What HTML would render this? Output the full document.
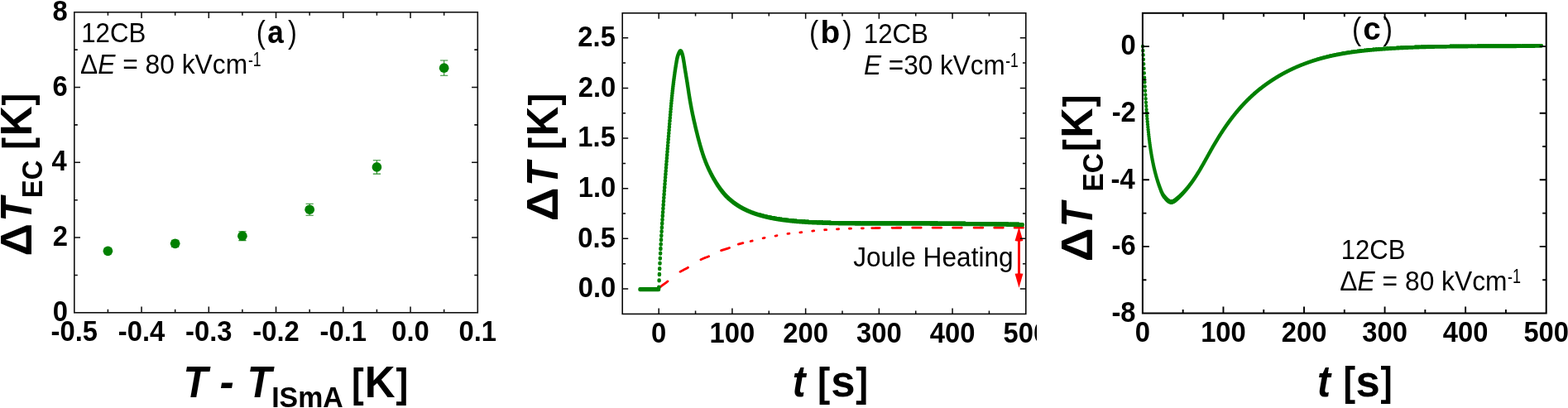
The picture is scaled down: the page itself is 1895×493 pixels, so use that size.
<!DOCTYPE html>
<html lang="en"><head><meta charset="utf-8"><title>Figure</title>
<style>html,body{margin:0;padding:0;background:#fff;overflow:hidden}svg{display:block}text{white-space:pre}</style>
</head><body>
<svg width="1895" height="493" viewBox="0 0 1895 493" font-family="'Liberation Sans', Arial, sans-serif" fill="#000">
<rect width="1895" height="493" fill="#fff"/>
<path d="M130.42 300.20V306.55M125.82 300.20h9.2M125.82 306.55h9.2" stroke="#2a8c2a" stroke-width="1.1" fill="none"/>
<circle cx="130.42" cy="303.37" r="5.85" fill="#008000"/>
<path d="M211.68 290.21V298.38M207.08 290.21h9.2M207.08 298.38h9.2" stroke="#2a8c2a" stroke-width="1.1" fill="none"/>
<circle cx="211.68" cy="294.30" r="5.85" fill="#008000"/>
<path d="M292.92 279.78V290.67M288.32 279.78h9.2M288.32 290.67h9.2" stroke="#2a8c2a" stroke-width="1.1" fill="none"/>
<circle cx="292.92" cy="285.22" r="5.85" fill="#008000"/>
<path d="M374.18 246.19V260.26M369.57 246.19h9.2M369.57 260.26h9.2" stroke="#2a8c2a" stroke-width="1.1" fill="none"/>
<circle cx="374.18" cy="253.23" r="5.85" fill="#008000"/>
<path d="M455.42 193.78V210.12M450.82 193.78h9.2M450.82 210.12h9.2" stroke="#2a8c2a" stroke-width="1.1" fill="none"/>
<circle cx="455.42" cy="201.95" r="5.85" fill="#008000"/>
<path d="M536.67 73.06V91.22M532.07 73.06h9.2M532.07 91.22h9.2" stroke="#2a8c2a" stroke-width="1.1" fill="none"/>
<circle cx="536.67" cy="82.14" r="5.85" fill="#008000"/>
<rect x="89.8" y="14.75" width="487.50" height="363.05" fill="none" stroke="#111" stroke-width="1.6"/>
<path d="M171.05 377.8v-7.2M171.05 14.75v7.2M252.30 377.8v-7.2M252.30 14.75v7.2M333.55 377.8v-7.2M333.55 14.75v7.2M414.80 377.8v-7.2M414.80 14.75v7.2M496.05 377.8v-7.2M496.05 14.75v7.2" stroke="#111" stroke-width="1.55" fill="none"/>
<path d="M130.42 377.8v-4M130.42 14.75v4M211.68 377.8v-4M211.68 14.75v4M292.92 377.8v-4M292.92 14.75v4M374.18 377.8v-4M374.18 14.75v4M455.42 377.8v-4M455.42 14.75v4M536.67 377.8v-4M536.67 14.75v4" stroke="#111" stroke-width="1.55" fill="none"/>
<path d="M89.8 287.04h7.2M577.3 287.04h-7.2M89.8 196.28h7.2M577.3 196.28h-7.2M89.8 105.51h7.2M577.3 105.51h-7.2" stroke="#111" stroke-width="1.55" fill="none"/>
<path d="M89.8 332.42h4M577.3 332.42h-4M89.8 241.66h4M577.3 241.66h-4M89.8 150.89h4M577.3 150.89h-4M89.8 60.13h4M577.3 60.13h-4" stroke="#111" stroke-width="1.55" fill="none"/>
<text transform="translate(63.72,388.00) scale(0.9500,1)" font-size="34.5" font-weight="bold" font-style="normal">0</text>
<text transform="translate(63.64,297.24) scale(0.9500,1)" font-size="34.5" font-weight="bold" font-style="normal">2</text>
<text transform="translate(62.57,206.47) scale(0.9500,1)" font-size="34.5" font-weight="bold" font-style="normal">4</text>
<text transform="translate(63.56,115.71) scale(0.9500,1)" font-size="34.5" font-weight="bold" font-style="normal">6</text>
<text transform="translate(63.39,24.95) scale(0.9500,1)" font-size="34.5" font-weight="bold" font-style="normal">8</text>
<text transform="translate(89.80,412.40) scale(0.95,1)" font-size="34.5" font-weight="bold" text-anchor="middle">-0.5</text>
<text transform="translate(171.05,412.40) scale(0.95,1)" font-size="34.5" font-weight="bold" text-anchor="middle">-0.4</text>
<text transform="translate(252.30,412.40) scale(0.95,1)" font-size="34.5" font-weight="bold" text-anchor="middle">-0.3</text>
<text transform="translate(333.55,412.40) scale(0.95,1)" font-size="34.5" font-weight="bold" text-anchor="middle">-0.2</text>
<text transform="translate(414.80,412.40) scale(0.95,1)" font-size="34.5" font-weight="bold" text-anchor="middle">-0.1</text>
<text transform="translate(496.05,412.40) scale(0.95,1)" font-size="34.5" font-weight="bold" text-anchor="middle">0.0</text>
<text transform="translate(577.30,412.40) scale(0.95,1)" font-size="34.5" font-weight="bold" text-anchor="middle">0.1</text>
<text transform="translate(98.26,51.10) scale(0.9455,1)" font-size="33.0" font-weight="normal" font-style="normal">12CB</text>
<text transform="translate(0,89.20)" font-size="33.0"><tspan x="96.95" y="0" font-weight="normal" font-style="normal" textLength="21.22" lengthAdjust="spacingAndGlyphs">Δ</tspan><tspan x="118.17" y="0" font-weight="normal" font-style="italic" textLength="21.19" lengthAdjust="spacingAndGlyphs">E</tspan><tspan x="139.36" y="0" font-weight="normal" font-style="normal" textLength="159.80" lengthAdjust="spacingAndGlyphs"> = 80 kVcm</tspan><tspan x="299.91" y="-9.4" font-size="23.0" textLength="15.66" lengthAdjust="spacingAndGlyphs">-1</tspan></text>
<text transform="translate(0,52.00)"><tspan x="309.82" y="0.00" font-size="39.0" font-weight="normal" font-style="normal" textLength="11.06" lengthAdjust="spacingAndGlyphs">(</tspan><tspan x="323.25" y="0.00" font-size="39.0" font-weight="bold" font-style="normal" textLength="19.53" lengthAdjust="spacingAndGlyphs">a</tspan><tspan x="348.06" y="0.00" font-size="39.0" font-weight="normal" font-style="normal" textLength="10.81" lengthAdjust="spacingAndGlyphs">)</tspan></text>
<text transform="translate(0,480.10)"><tspan x="221.50" y="0.00" font-size="53.0" font-weight="bold" font-style="italic" textLength="29.64" lengthAdjust="spacingAndGlyphs">T</tspan><tspan> </tspan><tspan x="265.57" y="0.00" font-size="53.0" font-weight="bold" font-style="italic" textLength="17.28" lengthAdjust="spacingAndGlyphs">-</tspan><tspan> </tspan><tspan x="298.71" y="0.00" font-size="53.0" font-weight="bold" font-style="italic" textLength="29.54" lengthAdjust="spacingAndGlyphs">T</tspan><tspan x="328.21" y="11.40" font-size="34.5" font-weight="bold" font-style="normal" textLength="86.57" lengthAdjust="spacingAndGlyphs">ISmA</tspan><tspan> </tspan><tspan x="425.07" y="-0.40" font-size="50.5" font-weight="bold" font-style="normal" textLength="14.70" lengthAdjust="spacingAndGlyphs">[</tspan><tspan x="440.86" y="0.00" font-size="53.0" font-weight="bold" font-style="normal" textLength="36.84" lengthAdjust="spacingAndGlyphs">K</tspan><tspan x="478.54" y="-0.40" font-size="50.5" font-weight="bold" font-style="normal" textLength="14.83" lengthAdjust="spacingAndGlyphs">]</tspan></text>
<text transform="translate(38.00,0) rotate(-90)"><tspan x="-309.50" y="0.00" font-size="53.0" font-weight="bold" font-style="normal" textLength="39.46" lengthAdjust="spacingAndGlyphs">Δ</tspan><tspan x="-267.85" y="0.00" font-size="53.0" font-weight="bold" font-style="italic" textLength="29.24" lengthAdjust="spacingAndGlyphs">T</tspan><tspan x="-239.22" y="13.00" font-size="34.5" font-weight="bold" font-style="normal" textLength="45.59" lengthAdjust="spacingAndGlyphs">EC</tspan><tspan> </tspan><tspan x="-180.73" y="-0.40" font-size="50.5" font-weight="bold" font-style="normal" textLength="14.70" lengthAdjust="spacingAndGlyphs">[</tspan><tspan x="-164.27" y="0.00" font-size="53.0" font-weight="bold" font-style="normal" textLength="36.05" lengthAdjust="spacingAndGlyphs">K</tspan><tspan x="-127.55" y="-0.40" font-size="50.5" font-weight="bold" font-style="normal" textLength="14.70" lengthAdjust="spacingAndGlyphs">]</tspan></text>
<clipPath id="cb"><rect x="600" y="0" width="653" height="493"/></clipPath>
<g clip-path="url(#cb)">
<path d="M796.42 347.86 L798.18 346.55 L799.94 345.24 L801.70 343.92 L803.46 342.61 L805.22 341.29 L806.98 339.95M822.02 328.40 L823.60 327.49 L825.17 326.64 L826.75 325.83 L828.33 325.02 L829.90 324.20 L831.48 323.34M846.92 313.66 L848.53 312.95 L850.14 312.29 L851.75 311.67 L853.36 311.06 L854.97 310.43 L856.58 309.78M871.62 302.68 L873.26 302.11 L874.91 301.58 L876.55 301.07 L878.19 300.57 L879.84 300.05 L881.48 299.50M892.32 295.14 L893.25 294.85 L894.17 294.58 L895.10 294.32 L896.03 294.06 L896.95 293.82 L897.88 293.58M907.12 291.50 L907.46 291.42 L907.81 291.34 L908.15 291.26 L908.49 291.18 L908.84 291.10 L909.18 291.02M922.12 287.79 L922.45 287.72 L922.77 287.65 L923.10 287.58 L923.43 287.51 L923.75 287.45 L924.08 287.38M937.02 285.07 L937.35 285.01 L937.67 284.96 L938.00 284.90 L938.33 284.84 L938.65 284.78 L938.98 284.72M951.92 282.44 L952.25 282.40 L952.57 282.36 L952.90 282.31 L953.23 282.27 L953.55 282.23 L953.88 282.19M966.82 280.91 L967.15 280.87 L967.47 280.84 L967.80 280.80 L968.13 280.76 L968.45 280.73 L968.78 280.69M981.72 279.10 L982.05 279.07 L982.37 279.03 L982.70 279.00 L983.03 278.97 L983.35 278.93 L983.68 278.90M996.62 277.77 L996.96 277.75 L997.31 277.72 L997.65 277.70 L997.99 277.67 L998.34 277.65 L998.68 277.62M1011.52 276.85 L1011.86 276.83 L1012.21 276.81 L1012.55 276.80 L1012.89 276.78 L1013.24 276.76 L1013.58 276.75M1026.42 276.23 L1026.76 276.22 L1027.11 276.21 L1027.45 276.20 L1027.79 276.19 L1028.14 276.18 L1028.48 276.17M1041.32 275.83 L1041.66 275.82 L1042.01 275.82 L1042.35 275.81 L1042.69 275.80 L1043.04 275.79 L1043.38 275.78M1053.72 275.59 L1055.30 275.56 L1056.87 275.54 L1058.45 275.52 L1060.03 275.50 L1061.60 275.48 L1063.18 275.46M1078.12 275.31 L1079.90 275.29 L1081.67 275.28 L1083.45 275.27 L1085.23 275.25 L1087.00 275.24 L1088.78 275.23M1102.72 275.20 L1104.46 275.20 L1106.21 275.20 L1107.95 275.20 L1109.69 275.20 L1111.44 275.20 L1113.18 275.20M1127.12 275.20 L1128.88 275.20 L1130.64 275.20 L1132.40 275.20 L1134.16 275.20 L1135.92 275.20 L1137.68 275.20M1151.62 275.20 L1153.38 275.20 L1155.14 275.20 L1156.90 275.20 L1158.66 275.20 L1160.42 275.20 L1162.18 275.20M1177.12 275.20 L1178.90 275.20 L1180.67 275.20 L1182.45 275.20 L1184.23 275.20 L1186.00 275.20 L1187.78 275.20M1201.72 275.20 L1203.48 275.20 L1205.24 275.20 L1207.00 275.20 L1208.76 275.20 L1210.52 275.20 L1212.28 275.20M1226.12 275.20 L1227.88 275.20 L1229.64 275.20 L1231.40 275.20 L1233.16 275.20 L1234.92 275.20 L1236.68 275.20" fill="none" stroke="#ff0000" stroke-width="2.8" stroke-linecap="round"/>
<path d="M773.50 349.20v0.8M773.80 349.20v0.8M774.10 349.20v0.8M774.40 349.20v0.8M774.70 349.20v0.8M775.00 349.20v0.8M775.30 349.20v0.8M775.60 349.20v0.8M775.90 349.20v0.8M776.20 349.20v0.8M776.50 349.20v0.8M776.80 349.20v0.8M777.10 349.20v0.8M777.40 349.20v0.8M777.70 349.20v0.8M778.00 349.20v0.8M778.30 349.20v0.8M778.60 349.20v0.8M778.90 349.20v0.8M779.20 349.20v0.8M779.50 349.20v0.8M779.80 349.20v0.8M780.10 349.20v0.8M780.40 349.20v0.8M780.70 349.20v0.8M781.00 349.20v0.8M781.30 349.20v0.8M781.60 349.20v0.8M781.90 349.20v0.8M782.20 349.20v0.8M782.50 349.20v0.8M782.80 349.20v0.8M783.10 349.20v0.8M783.40 349.20v0.8M783.70 349.20v0.8M784.00 349.20v0.8M784.30 349.20v0.8M784.60 349.20v0.8M784.90 349.20v0.8M785.20 349.20v0.8M785.50 349.20v0.8M785.80 349.20v0.8M786.10 349.20v0.8M786.40 349.20v0.8M786.70 349.20v0.8M787.00 349.20v0.8M787.30 349.20v0.8M787.60 349.20v0.8M787.90 349.20v0.8M788.20 349.20v0.8M788.50 349.20v0.8M788.80 349.20v0.8M789.10 349.20v0.8M789.40 349.20v0.8M789.70 349.20v0.8M790.00 349.20v0.8M790.30 349.20v0.8M790.60 349.20v0.8M790.90 349.20v0.8M791.20 349.20v0.8M791.50 349.20v0.8M791.80 349.20v0.8M792.10 349.20v0.8M792.40 349.20v0.8M792.70 349.20v0.8M793.00 349.20v0.8M793.30 349.20v0.8M793.60 349.20v0.8M793.90 349.20v0.8M794.20 349.20v0.8M794.50 349.20v0.8M794.80 349.20v0.8M795.10 349.20v0.8M795.40 349.20v0.8M795.70 349.20v0.8M796.00 349.20v0.8M796.30 346.85v0.8M796.60 338.50v0.8M796.90 331.12v0.8M797.20 324.24v0.8M797.50 317.77v0.8M797.80 311.63v0.8M798.10 305.75v0.8M798.40 300.10v0.8M798.70 294.64v0.8M799.00 289.37v0.8M799.30 284.25v0.8M799.60 279.26v0.8M799.90 274.39v0.8M800.20 269.62v0.8M800.50 264.95v0.8M800.80 260.37v0.8M801.10 255.88v0.8M801.40 251.45v0.8M801.70 247.08v0.8M802.00 242.79v0.8M802.30 238.55v0.8M802.60 234.35v0.8M802.90 230.21v0.8M803.20 226.11v0.8M803.50 222.05v0.8M803.80 218.03v0.8M804.10 214.05v0.8M804.40 210.08v0.8M804.70 206.15v0.8M805.00 202.25v0.8M805.30 198.37v0.8M805.60 194.52v0.8M805.90 190.68v0.8M806.20 186.86v0.8M806.50 183.06v0.8M806.80 179.27v0.8M807.10 175.50v0.8M807.40 171.74v0.8M807.70 167.99v0.8M808.00 164.24v0.8M808.30 160.49v0.8M808.60 156.75v0.8M808.90 153.03v0.8M809.20 149.29v0.8M809.50 145.58v0.8M809.80 141.89v0.8M810.10 138.26v0.8M810.40 134.70v0.8M810.70 131.21v0.8M811.00 127.80v0.8M811.30 124.49v0.8M811.60 121.27v0.8M811.90 118.15v0.8M812.20 115.13v0.8M812.50 112.21v0.8M812.80 109.37v0.8M813.10 106.62v0.8M813.40 103.97v0.8M813.70 101.41v0.8M814.00 98.92v0.8M814.30 96.51v0.8M814.60 94.17v0.8M814.90 91.91v0.8M815.20 89.70v0.8M815.50 87.57v0.8M815.80 85.49v0.8M816.10 83.47v0.8M816.40 81.51v0.8M816.70 79.58v0.8M817.00 77.72v0.8M817.30 75.89v0.8M817.60 74.12v0.8M817.90 72.40v0.8M818.20 70.85v0.8M818.50 69.51v0.8M818.80 68.37v0.8M819.10 67.37v0.8M819.40 66.50v0.8M819.70 65.72v0.8M820.00 65.01v0.8M820.30 64.36v0.8M820.60 63.77v0.8M820.90 63.23v0.8M821.20 62.73v0.8M821.50 62.27v0.8M821.80 61.85v0.8M822.10 61.41v0.8M822.40 61.34v0.8M822.70 61.51v0.8M823.00 61.78v0.8M823.30 62.14v0.8M823.60 62.60v0.8M823.90 63.21v0.8M824.20 63.93v0.8M824.50 64.79v0.8M824.80 65.81v0.8M825.10 66.96v0.8M825.40 68.29v0.8M825.70 69.77v0.8M826.00 71.38v0.8M826.30 73.16v0.8M826.60 75.02v0.8M826.90 76.94v0.8M827.20 78.91v0.8M827.50 80.85v0.8M827.80 82.76v0.8M828.10 84.65v0.8M828.40 86.49v0.8M828.70 88.30v0.8M829.00 90.10v0.8M829.30 91.89v0.8M829.60 93.68v0.8M829.90 95.50v0.8M830.20 97.34v0.8M830.50 99.21v0.8M830.80 101.12v0.8M831.10 103.08v0.8M831.40 105.05v0.8M831.70 107.03v0.8M832.00 109.02v0.8M832.30 110.98v0.8M832.60 112.94v0.8M832.90 114.86v0.8M833.20 116.74v0.8M833.50 118.57v0.8M833.80 120.37v0.8M834.10 122.13v0.8M834.40 123.84v0.8M834.70 125.53v0.8M835.00 127.18v0.8M835.30 128.80v0.8M835.60 130.38v0.8M835.90 131.94v0.8M836.20 133.47v0.8M836.50 134.97v0.8M836.80 136.45v0.8M837.10 137.90v0.8M837.40 139.32v0.8M837.70 140.73v0.8M838.00 142.11v0.8M838.30 143.48v0.8M838.60 144.83v0.8M838.90 146.16v0.8M839.20 147.48v0.8M839.50 148.78v0.8M839.80 150.07v0.8M840.10 151.35v0.8M840.40 152.63v0.8M840.70 153.89v0.8M841.00 155.15v0.8M841.30 156.40v0.8M841.60 157.63v0.8M841.90 158.86v0.8M842.20 160.07v0.8M842.50 161.28v0.8M842.80 162.48v0.8M843.10 163.66v0.8M843.40 164.84v0.8M843.70 166.00v0.8M844.00 167.16v0.8M844.30 168.30v0.8M844.60 169.44v0.8M844.90 170.56v0.8M845.20 171.67v0.8M845.50 172.76v0.8M845.80 173.85v0.8M846.10 174.93v0.8M846.40 175.99v0.8M846.70 177.04v0.8M847.00 178.07v0.8M847.30 179.09v0.8M847.60 180.10v0.8M847.90 181.10v0.8M848.20 182.09v0.8M848.50 183.06v0.8M848.80 184.01v0.8M849.10 184.95v0.8M849.40 185.88v0.8M849.70 186.80v0.8M850.00 187.70v0.8M850.30 188.58v0.8M850.60 189.45v0.8M850.90 190.30v0.8M851.20 191.14v0.8M851.50 191.96v0.8M851.80 192.77v0.8M852.10 193.57v0.8M852.40 194.35v0.8M852.70 195.12v0.8M853.00 195.88v0.8M853.30 196.63v0.8M853.60 197.37v0.8M853.90 198.09v0.8M854.20 198.80v0.8M854.50 199.50v0.8M854.80 200.19v0.8M855.10 200.88v0.8M855.40 201.55v0.8M855.70 202.21v0.8M856.00 202.87v0.8M856.30 203.52v0.8M856.60 204.16v0.8M856.90 204.79v0.8M857.20 205.42v0.8M857.50 206.04v0.8M857.80 206.66v0.8M858.10 207.27v0.8M858.40 207.87v0.8M858.70 208.47v0.8M859.00 209.06v0.8M859.30 209.65v0.8M859.60 210.23v0.8M859.90 210.80v0.8M860.20 211.37v0.8M860.50 211.93v0.8M860.80 212.49v0.8M861.10 213.04v0.8M861.40 213.59v0.8M861.70 214.14v0.8M862.00 214.68v0.8M862.30 215.21v0.8M862.60 215.74v0.8M862.90 216.26v0.8M863.20 216.78v0.8M863.50 217.29v0.8M863.80 217.80v0.8M864.10 218.30v0.8M864.40 218.80v0.8M864.70 219.29v0.8M865.00 219.78v0.8M865.30 220.26v0.8M865.60 220.74v0.8M865.90 221.22v0.8M866.20 221.69v0.8M866.50 222.16v0.8M866.80 222.62v0.8M867.10 223.08v0.8M867.40 223.53v0.8M867.70 223.98v0.8M868.00 224.42v0.8M868.30 224.86v0.8M868.60 225.29v0.8M868.90 225.73v0.8M869.20 226.16v0.8M869.50 226.58v0.8M869.80 227.00v0.8M870.10 227.42v0.8M870.40 227.83v0.8M870.70 228.24v0.8M871.00 228.64v0.8M871.30 229.04v0.8M871.60 229.43v0.8M871.90 229.83v0.8M872.20 230.22v0.8M872.50 230.61v0.8M872.80 230.99v0.8M873.10 231.37v0.8M873.40 231.74v0.8M873.70 232.11v0.8M874.00 232.48v0.8M874.30 232.85v0.8M874.60 233.21v0.8M874.90 233.57v0.8M875.20 233.93v0.8M875.50 234.27v0.8M875.80 234.61v0.8M876.10 234.94v0.8M876.40 235.27v0.8M876.70 235.59v0.8M877.00 235.91v0.8M877.30 236.22v0.8M877.60 236.52v0.8M877.90 236.83v0.8M878.20 237.13v0.8M878.50 237.42v0.8M878.80 237.72v0.8M879.10 238.01v0.8M879.40 238.29v0.8M879.70 238.58v0.8M880.00 238.86v0.8M880.30 239.14v0.8M880.60 239.41v0.8M880.90 239.68v0.8M881.20 239.95v0.8M881.50 240.22v0.8M881.80 240.48v0.8M882.10 240.75v0.8M882.40 241.01v0.8M882.70 241.26v0.8M883.00 241.52v0.8M883.30 241.77v0.8M883.60 242.02v0.8M883.90 242.26v0.8M884.20 242.51v0.8M884.50 242.75v0.8M884.80 242.99v0.8M885.10 243.23v0.8M885.40 243.46v0.8M885.70 243.69v0.8M886.00 243.92v0.8M886.30 244.15v0.8M886.60 244.38v0.8M886.90 244.60v0.8M887.20 244.82v0.8M887.50 245.04v0.8M887.80 245.26v0.8M888.10 245.48v0.8M888.40 245.69v0.8M888.70 245.90v0.8M889.00 246.11v0.8M889.30 246.32v0.8M889.60 246.52v0.8M889.90 246.72v0.8M890.20 246.92v0.8M890.50 247.12v0.8M890.80 247.32v0.8M891.10 247.51v0.8M891.40 247.71v0.8M891.70 247.90v0.8M892.00 248.09v0.8M892.30 248.28v0.8M892.60 248.46v0.8M892.90 248.65v0.8M893.20 248.83v0.8M893.50 249.02v0.8M893.80 249.20v0.8M894.10 249.38v0.8M894.40 249.55v0.8M894.70 249.73v0.8M895.00 249.90v0.8M895.30 250.07v0.8M895.60 250.24v0.8M895.90 250.41v0.8M896.20 250.58v0.8M896.50 250.74v0.8M896.80 250.91v0.8M897.10 251.07v0.8M897.40 251.23v0.8M897.70 251.39v0.8M898.00 251.55v0.8M898.30 251.70v0.8M898.60 251.86v0.8M898.90 252.01v0.8M899.20 252.17v0.8M899.50 252.32v0.8M899.80 252.46v0.8M900.10 252.61v0.8M900.40 252.75v0.8M900.70 252.90v0.8M901.00 253.04v0.8M901.30 253.18v0.8M901.60 253.32v0.8M901.90 253.46v0.8M902.20 253.60v0.8M902.50 253.74v0.8M902.80 253.88v0.8M903.10 254.02v0.8M903.40 254.15v0.8M903.70 254.29v0.8M904.00 254.42v0.8M904.30 254.55v0.8M904.60 254.69v0.8M904.90 254.82v0.8M905.20 254.94v0.8M905.50 255.07v0.8M905.80 255.20v0.8M906.10 255.32v0.8M906.40 255.44v0.8M906.70 255.57v0.8M907.00 255.69v0.8M907.30 255.81v0.8M907.60 255.93v0.8M907.90 256.04v0.8M908.20 256.16v0.8M908.50 256.28v0.8M908.80 256.39v0.8M909.10 256.51v0.8M909.40 256.62v0.8M909.70 256.73v0.8M910.00 256.84v0.8M910.30 256.95v0.8M910.60 257.06v0.8M910.90 257.17v0.8M911.20 257.28v0.8M911.50 257.38v0.8M911.80 257.49v0.8M912.10 257.59v0.8M912.40 257.70v0.8M912.70 257.80v0.8M913.00 257.90v0.8M913.30 258.01v0.8M913.60 258.11v0.8M913.90 258.21v0.8M914.20 258.31v0.8M914.50 258.40v0.8M914.80 258.50v0.8M915.10 258.60v0.8M915.40 258.69v0.8M915.70 258.79v0.8M916.00 258.88v0.8M916.30 258.98v0.8M916.60 259.07v0.8M916.90 259.16v0.8M917.20 259.25v0.8M917.50 259.34v0.8M917.80 259.43v0.8M918.10 259.52v0.8M918.40 259.61v0.8M918.70 259.69v0.8M919.00 259.78v0.8M919.30 259.87v0.8M919.60 259.95v0.8M919.90 260.04v0.8M920.20 260.12v0.8M920.50 260.20v0.8M920.80 260.28v0.8M921.10 260.37v0.8M921.40 260.45v0.8M921.70 260.53v0.8M922.00 260.61v0.8M922.30 260.69v0.8M922.60 260.76v0.8M922.90 260.84v0.8M923.20 260.92v0.8M923.50 260.99v0.8M923.80 261.07v0.8M924.10 261.14v0.8M924.40 261.22v0.8M924.70 261.29v0.8M925.00 261.37v0.8M925.30 261.44v0.8M925.60 261.51v0.8M925.90 261.58v0.8M926.20 261.65v0.8M926.50 261.72v0.8M926.80 261.79v0.8M927.10 261.86v0.8M927.40 261.93v0.8M927.70 262.00v0.8M928.00 262.07v0.8M928.30 262.13v0.8M928.60 262.20v0.8M928.90 262.26v0.8M929.20 262.33v0.8M929.50 262.39v0.8M929.80 262.46v0.8M930.10 262.52v0.8M930.40 262.58v0.8M930.70 262.65v0.8M931.00 262.71v0.8M931.30 262.77v0.8M931.60 262.83v0.8M931.90 262.89v0.8M932.20 262.95v0.8M932.50 263.01v0.8M932.80 263.07v0.8M933.10 263.13v0.8M933.40 263.19v0.8M933.70 263.24v0.8M934.00 263.30v0.8M934.30 263.36v0.8M934.60 263.41v0.8M934.90 263.47v0.8M935.20 263.52v0.8M935.50 263.58v0.8M935.80 263.63v0.8M936.10 263.69v0.8M936.40 263.74v0.8M936.70 263.79v0.8M937.00 263.85v0.8M937.30 263.90v0.8M937.60 263.95v0.8M937.90 264.00v0.8M938.20 264.06v0.8M938.50 264.11v0.8M938.80 264.16v0.8M939.10 264.21v0.8M939.40 264.26v0.8M939.70 264.31v0.8M940.00 264.36v0.8M940.30 264.40v0.8M940.60 264.45v0.8M940.90 264.50v0.8M941.20 264.55v0.8M941.50 264.59v0.8M941.80 264.64v0.8M942.10 264.69v0.8M942.40 264.73v0.8M942.70 264.78v0.8M943.00 264.82v0.8M943.30 264.86v0.8M943.60 264.91v0.8M943.90 264.95v0.8M944.20 264.99v0.8M944.50 265.04v0.8M944.80 265.08v0.8M945.10 265.12v0.8M945.40 265.16v0.8M945.70 265.20v0.8M946.00 265.25v0.8M946.30 265.29v0.8M946.60 265.33v0.8M946.90 265.37v0.8M947.20 265.41v0.8M947.50 265.45v0.8M947.80 265.48v0.8M948.10 265.52v0.8M948.40 265.56v0.8M948.70 265.60v0.8M949.00 265.64v0.8M949.30 265.67v0.8M949.60 265.71v0.8M949.90 265.75v0.8M950.20 265.78v0.8M950.50 265.82v0.8M950.80 265.86v0.8M951.10 265.89v0.8M951.40 265.93v0.8M951.70 265.96v0.8M952.00 266.00v0.8M952.30 266.03v0.8M952.60 266.06v0.8M952.90 266.10v0.8M953.20 266.13v0.8M953.50 266.16v0.8M953.80 266.20v0.8M954.10 266.23v0.8M954.40 266.26v0.8M954.70 266.30v0.8M955.00 266.33v0.8M955.30 266.36v0.8M955.60 266.39v0.8M955.90 266.42v0.8M956.20 266.46v0.8M956.50 266.49v0.8M956.80 266.52v0.8M957.10 266.55v0.8M957.40 266.58v0.8M957.70 266.61v0.8M958.00 266.64v0.8M958.30 266.67v0.8M958.60 266.70v0.8M958.90 266.73v0.8M959.20 266.75v0.8M959.50 266.78v0.8M959.80 266.81v0.8M960.10 266.84v0.8M960.40 266.87v0.8M960.70 266.89v0.8M961.00 266.92v0.8M961.30 266.95v0.8M961.60 266.97v0.8M961.90 267.00v0.8M962.20 267.03v0.8M962.50 267.05v0.8M962.80 267.08v0.8M963.10 267.10v0.8M963.40 267.13v0.8M963.70 267.15v0.8M964.00 267.18v0.8M964.30 267.20v0.8M964.60 267.23v0.8M964.90 267.25v0.8M965.20 267.28v0.8M965.50 267.30v0.8M965.80 267.32v0.8M966.10 267.35v0.8M966.40 267.37v0.8M966.70 267.39v0.8M967.00 267.42v0.8M967.30 267.44v0.8M967.60 267.46v0.8M967.90 267.48v0.8M968.20 267.51v0.8M968.50 267.53v0.8M968.80 267.55v0.8M969.10 267.57v0.8M969.40 267.59v0.8M969.70 267.61v0.8M970.00 267.63v0.8M970.30 267.65v0.8M970.60 267.68v0.8M970.90 267.70v0.8M971.20 267.72v0.8M971.50 267.74v0.8M971.80 267.76v0.8M972.10 267.78v0.8M972.40 267.80v0.8M972.70 267.82v0.8M973.00 267.84v0.8M973.30 267.86v0.8M973.60 267.87v0.8M973.90 267.89v0.8M974.20 267.91v0.8M974.50 267.93v0.8M974.80 267.95v0.8M975.10 267.97v0.8M975.40 267.99v0.8M975.70 268.01v0.8M976.00 268.02v0.8M976.30 268.04v0.8M976.60 268.06v0.8M976.90 268.08v0.8M977.20 268.09v0.8M977.50 268.11v0.8M977.80 268.13v0.8M978.10 268.15v0.8M978.40 268.16v0.8M978.70 268.18v0.8M979.00 268.19v0.8M979.30 268.21v0.8M979.60 268.23v0.8M979.90 268.24v0.8M980.20 268.26v0.8M980.50 268.27v0.8M980.80 268.29v0.8M981.10 268.30v0.8M981.40 268.32v0.8M981.70 268.33v0.8M982.00 268.35v0.8M982.30 268.36v0.8M982.60 268.38v0.8M982.90 268.39v0.8M983.20 268.40v0.8M983.50 268.42v0.8M983.80 268.43v0.8M984.10 268.44v0.8M984.40 268.46v0.8M984.70 268.47v0.8M985.00 268.48v0.8M985.30 268.50v0.8M985.60 268.51v0.8M985.90 268.52v0.8M986.20 268.54v0.8M986.50 268.55v0.8M986.80 268.56v0.8M987.10 268.57v0.8M987.40 268.59v0.8M987.70 268.60v0.8M988.00 268.61v0.8M988.30 268.62v0.8M988.60 268.64v0.8M988.90 268.65v0.8M989.20 268.66v0.8M989.50 268.67v0.8M989.80 268.68v0.8M990.10 268.69v0.8M990.40 268.71v0.8M990.70 268.72v0.8M991.00 268.73v0.8M991.30 268.74v0.8M991.60 268.75v0.8M991.90 268.76v0.8M992.20 268.77v0.8M992.50 268.78v0.8M992.80 268.79v0.8M993.10 268.80v0.8M993.40 268.81v0.8M993.70 268.82v0.8M994.00 268.83v0.8M994.30 268.84v0.8M994.60 268.85v0.8M994.90 268.86v0.8M995.20 268.87v0.8M995.50 268.88v0.8M995.80 268.89v0.8M996.10 268.90v0.8M996.40 268.91v0.8M996.70 268.92v0.8M997.00 268.93v0.8M997.30 268.94v0.8M997.60 268.95v0.8M997.90 268.96v0.8M998.20 268.97v0.8M998.50 268.98v0.8M998.80 268.99v0.8M999.10 269.00v0.8M999.40 269.00v0.8M999.70 269.01v0.8M1000.00 269.02v0.8M1000.30 269.03v0.8M1000.60 269.04v0.8M1000.90 269.04v0.8M1001.20 269.05v0.8M1001.50 269.06v0.8M1001.80 269.07v0.8M1002.10 269.07v0.8M1002.40 269.08v0.8M1002.70 269.09v0.8M1003.00 269.10v0.8M1003.30 269.10v0.8M1003.60 269.11v0.8M1003.90 269.12v0.8M1004.20 269.12v0.8M1004.50 269.13v0.8M1004.80 269.14v0.8M1005.10 269.15v0.8M1005.40 269.15v0.8M1005.70 269.16v0.8M1006.00 269.17v0.8M1006.30 269.17v0.8M1006.60 269.18v0.8M1006.90 269.19v0.8M1007.20 269.19v0.8M1007.50 269.20v0.8M1007.80 269.21v0.8M1008.10 269.21v0.8M1008.40 269.22v0.8M1008.70 269.23v0.8M1009.00 269.23v0.8M1009.30 269.24v0.8M1009.60 269.25v0.8M1009.90 269.25v0.8M1010.20 269.26v0.8M1010.50 269.27v0.8M1010.80 269.27v0.8M1011.10 269.28v0.8M1011.40 269.29v0.8M1011.70 269.29v0.8M1012.00 269.30v0.8M1012.30 269.30v0.8M1012.60 269.31v0.8M1012.90 269.31v0.8M1013.20 269.32v0.8M1013.50 269.33v0.8M1013.80 269.33v0.8M1014.10 269.34v0.8M1014.40 269.34v0.8M1014.70 269.35v0.8M1015.00 269.35v0.8M1015.30 269.36v0.8M1015.60 269.36v0.8M1015.90 269.37v0.8M1016.20 269.37v0.8M1016.50 269.38v0.8M1016.80 269.38v0.8M1017.10 269.39v0.8M1017.40 269.39v0.8M1017.70 269.40v0.8M1018.00 269.40v0.8M1018.30 269.41v0.8M1018.60 269.41v0.8M1018.90 269.42v0.8M1019.20 269.42v0.8M1019.50 269.42v0.8M1019.80 269.43v0.8M1020.10 269.43v0.8M1020.40 269.44v0.8M1020.70 269.44v0.8M1021.00 269.44v0.8M1021.30 269.45v0.8M1021.60 269.45v0.8M1021.90 269.45v0.8M1022.20 269.46v0.8M1022.50 269.46v0.8M1022.80 269.47v0.8M1023.10 269.47v0.8M1023.40 269.47v0.8M1023.70 269.48v0.8M1024.00 269.48v0.8M1024.30 269.48v0.8M1024.60 269.49v0.8M1024.90 269.49v0.8M1025.20 269.49v0.8M1025.50 269.50v0.8M1025.80 269.50v0.8M1026.10 269.50v0.8M1026.40 269.51v0.8M1026.70 269.51v0.8M1027.00 269.51v0.8M1027.30 269.52v0.8M1027.60 269.52v0.8M1027.90 269.52v0.8M1028.20 269.53v0.8M1028.50 269.53v0.8M1028.80 269.53v0.8M1029.10 269.53v0.8M1029.40 269.54v0.8M1029.70 269.54v0.8M1030.00 269.54v0.8M1030.30 269.55v0.8M1030.60 269.55v0.8M1030.90 269.55v0.8M1031.20 269.55v0.8M1031.50 269.56v0.8M1031.80 269.56v0.8M1032.10 269.56v0.8M1032.40 269.57v0.8M1032.70 269.57v0.8M1033.00 269.57v0.8M1033.30 269.57v0.8M1033.60 269.58v0.8M1033.90 269.58v0.8M1034.20 269.58v0.8M1034.50 269.58v0.8M1034.80 269.59v0.8M1035.10 269.59v0.8M1035.40 269.59v0.8M1035.70 269.59v0.8M1036.00 269.59v0.8M1036.30 269.60v0.8M1036.60 269.60v0.8M1036.90 269.60v0.8M1037.20 269.60v0.8M1037.50 269.60v0.8M1037.80 269.61v0.8M1038.10 269.61v0.8M1038.40 269.61v0.8M1038.70 269.61v0.8M1039.00 269.61v0.8M1039.30 269.62v0.8M1039.60 269.62v0.8M1039.90 269.62v0.8M1040.20 269.62v0.8M1040.50 269.62v0.8M1040.80 269.62v0.8M1041.10 269.63v0.8M1041.40 269.63v0.8M1041.70 269.63v0.8M1042.00 269.63v0.8M1042.30 269.63v0.8M1042.60 269.63v0.8M1042.90 269.64v0.8M1043.20 269.64v0.8M1043.50 269.64v0.8M1043.80 269.64v0.8M1044.10 269.64v0.8M1044.40 269.64v0.8M1044.70 269.64v0.8M1045.00 269.65v0.8M1045.30 269.65v0.8M1045.60 269.65v0.8M1045.90 269.65v0.8M1046.20 269.65v0.8M1046.50 269.65v0.8M1046.80 269.65v0.8M1047.10 269.66v0.8M1047.40 269.66v0.8M1047.70 269.66v0.8M1048.00 269.66v0.8M1048.30 269.66v0.8M1048.60 269.66v0.8M1048.90 269.66v0.8M1049.20 269.67v0.8M1049.50 269.67v0.8M1049.80 269.67v0.8M1050.10 269.67v0.8M1050.40 269.67v0.8M1050.70 269.67v0.8M1051.00 269.67v0.8M1051.30 269.67v0.8M1051.60 269.67v0.8M1051.90 269.68v0.8M1052.20 269.68v0.8M1052.50 269.68v0.8M1052.80 269.68v0.8M1053.10 269.68v0.8M1053.40 269.68v0.8M1053.70 269.68v0.8M1054.00 269.68v0.8M1054.30 269.68v0.8M1054.60 269.69v0.8M1054.90 269.69v0.8M1055.20 269.69v0.8M1055.50 269.69v0.8M1055.80 269.69v0.8M1056.10 269.69v0.8M1056.40 269.69v0.8M1056.70 269.69v0.8M1057.00 269.69v0.8M1057.30 269.69v0.8M1057.60 269.69v0.8M1057.90 269.69v0.8M1058.20 269.70v0.8M1058.50 269.70v0.8M1058.80 269.70v0.8M1059.10 269.70v0.8M1059.40 269.70v0.8M1059.70 269.70v0.8M1060.00 269.70v0.8M1060.30 269.70v0.8M1060.60 269.70v0.8M1060.90 269.70v0.8M1061.20 269.70v0.8M1061.50 269.70v0.8M1061.80 269.70v0.8M1062.10 269.70v0.8M1062.40 269.70v0.8M1062.70 269.71v0.8M1063.00 269.71v0.8M1063.30 269.71v0.8M1063.60 269.71v0.8M1063.90 269.71v0.8M1064.20 269.71v0.8M1064.50 269.71v0.8M1064.80 269.71v0.8M1065.10 269.71v0.8M1065.40 269.71v0.8M1065.70 269.71v0.8M1066.00 269.71v0.8M1066.30 269.71v0.8M1066.60 269.71v0.8M1066.90 269.71v0.8M1067.20 269.71v0.8M1067.50 269.71v0.8M1067.80 269.71v0.8M1068.10 269.71v0.8M1068.40 269.71v0.8M1068.70 269.71v0.8M1069.00 269.72v0.8M1069.30 269.72v0.8M1069.60 269.72v0.8M1069.90 269.72v0.8M1070.20 269.72v0.8M1070.50 269.72v0.8M1070.80 269.72v0.8M1071.10 269.72v0.8M1071.40 269.72v0.8M1071.70 269.72v0.8M1072.00 269.72v0.8M1072.30 269.72v0.8M1072.60 269.72v0.8M1072.90 269.72v0.8M1073.20 269.72v0.8M1073.50 269.72v0.8M1073.80 269.72v0.8M1074.10 269.72v0.8M1074.40 269.72v0.8M1074.70 269.72v0.8M1075.00 269.72v0.8M1075.30 269.72v0.8M1075.60 269.72v0.8M1075.90 269.72v0.8M1076.20 269.72v0.8M1076.50 269.73v0.8M1076.80 269.73v0.8M1077.10 269.73v0.8M1077.40 269.73v0.8M1077.70 269.73v0.8M1078.00 269.73v0.8M1078.30 269.73v0.8M1078.60 269.73v0.8M1078.90 269.73v0.8M1079.20 269.73v0.8M1079.50 269.73v0.8M1079.80 269.73v0.8M1080.10 269.73v0.8M1080.40 269.73v0.8M1080.70 269.73v0.8M1081.00 269.73v0.8M1081.30 269.73v0.8M1081.60 269.73v0.8M1081.90 269.73v0.8M1082.20 269.73v0.8M1082.50 269.73v0.8M1082.80 269.73v0.8M1083.10 269.73v0.8M1083.40 269.73v0.8M1083.70 269.74v0.8M1084.00 269.74v0.8M1084.30 269.74v0.8M1084.60 269.74v0.8M1084.90 269.74v0.8M1085.20 269.74v0.8M1085.50 269.74v0.8M1085.80 269.74v0.8M1086.10 269.74v0.8M1086.40 269.74v0.8M1086.70 269.74v0.8M1087.00 269.74v0.8M1087.30 269.74v0.8M1087.60 269.74v0.8M1087.90 269.74v0.8M1088.20 269.74v0.8M1088.50 269.74v0.8M1088.80 269.74v0.8M1089.10 269.74v0.8M1089.40 269.74v0.8M1089.70 269.74v0.8M1090.00 269.74v0.8M1090.30 269.74v0.8M1090.60 269.74v0.8M1090.90 269.75v0.8M1091.20 269.75v0.8M1091.50 269.75v0.8M1091.80 269.75v0.8M1092.10 269.75v0.8M1092.40 269.75v0.8M1092.70 269.75v0.8M1093.00 269.75v0.8M1093.30 269.75v0.8M1093.60 269.75v0.8M1093.90 269.75v0.8M1094.20 269.75v0.8M1094.50 269.75v0.8M1094.80 269.75v0.8M1095.10 269.75v0.8M1095.40 269.75v0.8M1095.70 269.75v0.8M1096.00 269.75v0.8M1096.30 269.75v0.8M1096.60 269.75v0.8M1096.90 269.75v0.8M1097.20 269.76v0.8M1097.50 269.76v0.8M1097.80 269.76v0.8M1098.10 269.76v0.8M1098.40 269.76v0.8M1098.70 269.76v0.8M1099.00 269.76v0.8M1099.30 269.76v0.8M1099.60 269.76v0.8M1099.90 269.76v0.8M1100.20 269.76v0.8M1100.50 269.76v0.8M1100.80 269.76v0.8M1101.10 269.76v0.8M1101.40 269.76v0.8M1101.70 269.76v0.8M1102.00 269.76v0.8M1102.30 269.76v0.8M1102.60 269.77v0.8M1102.90 269.77v0.8M1103.20 269.77v0.8M1103.50 269.77v0.8M1103.80 269.77v0.8M1104.10 269.77v0.8M1104.40 269.77v0.8M1104.70 269.77v0.8M1105.00 269.77v0.8M1105.30 269.77v0.8M1105.60 269.77v0.8M1105.90 269.77v0.8M1106.20 269.77v0.8M1106.50 269.77v0.8M1106.80 269.77v0.8M1107.10 269.77v0.8M1107.40 269.78v0.8M1107.70 269.78v0.8M1108.00 269.78v0.8M1108.30 269.78v0.8M1108.60 269.78v0.8M1108.90 269.78v0.8M1109.20 269.78v0.8M1109.50 269.78v0.8M1109.80 269.78v0.8M1110.10 269.78v0.8M1110.40 269.78v0.8M1110.70 269.78v0.8M1111.00 269.78v0.8M1111.30 269.78v0.8M1111.60 269.79v0.8M1111.90 269.79v0.8M1112.20 269.79v0.8M1112.50 269.79v0.8M1112.80 269.79v0.8M1113.10 269.79v0.8M1113.40 269.79v0.8M1113.70 269.79v0.8M1114.00 269.79v0.8M1114.30 269.79v0.8M1114.60 269.79v0.8M1114.90 269.79v0.8M1115.20 269.80v0.8M1115.50 269.80v0.8M1115.80 269.80v0.8M1116.10 269.80v0.8M1116.40 269.80v0.8M1116.70 269.80v0.8M1117.00 269.80v0.8M1117.30 269.80v0.8M1117.60 269.80v0.8M1117.90 269.80v0.8M1118.20 269.80v0.8M1118.50 269.81v0.8M1118.80 269.81v0.8M1119.10 269.81v0.8M1119.40 269.81v0.8M1119.70 269.81v0.8M1120.00 269.81v0.8M1120.30 269.81v0.8M1120.60 269.81v0.8M1120.90 269.81v0.8M1121.20 269.81v0.8M1121.50 269.82v0.8M1121.80 269.82v0.8M1122.10 269.82v0.8M1122.40 269.82v0.8M1122.70 269.82v0.8M1123.00 269.82v0.8M1123.30 269.82v0.8M1123.60 269.82v0.8M1123.90 269.82v0.8M1124.20 269.83v0.8M1124.50 269.83v0.8M1124.80 269.83v0.8M1125.10 269.83v0.8M1125.40 269.83v0.8M1125.70 269.83v0.8M1126.00 269.83v0.8M1126.30 269.84v0.8M1126.60 269.84v0.8M1126.90 269.84v0.8M1127.20 269.84v0.8M1127.50 269.84v0.8M1127.80 269.84v0.8M1128.10 269.84v0.8M1128.40 269.85v0.8M1128.70 269.85v0.8M1129.00 269.85v0.8M1129.30 269.85v0.8M1129.60 269.85v0.8M1129.90 269.85v0.8M1130.20 269.85v0.8M1130.50 269.86v0.8M1130.80 269.86v0.8M1131.10 269.86v0.8M1131.40 269.86v0.8M1131.70 269.86v0.8M1132.00 269.86v0.8M1132.30 269.87v0.8M1132.60 269.87v0.8M1132.90 269.87v0.8M1133.20 269.87v0.8M1133.50 269.87v0.8M1133.80 269.87v0.8M1134.10 269.88v0.8M1134.40 269.88v0.8M1134.70 269.88v0.8M1135.00 269.88v0.8M1135.30 269.88v0.8M1135.60 269.88v0.8M1135.90 269.89v0.8M1136.20 269.89v0.8M1136.50 269.89v0.8M1136.80 269.89v0.8M1137.10 269.89v0.8M1137.40 269.89v0.8M1137.70 269.90v0.8M1138.00 269.90v0.8M1138.30 269.90v0.8M1138.60 269.90v0.8M1138.90 269.90v0.8M1139.20 269.91v0.8M1139.50 269.91v0.8M1139.80 269.91v0.8M1140.10 269.91v0.8M1140.40 269.91v0.8M1140.70 269.91v0.8M1141.00 269.92v0.8M1141.30 269.92v0.8M1141.60 269.92v0.8M1141.90 269.92v0.8M1142.20 269.92v0.8M1142.50 269.93v0.8M1142.80 269.93v0.8M1143.10 269.93v0.8M1143.40 269.93v0.8M1143.70 269.93v0.8M1144.00 269.94v0.8M1144.30 269.94v0.8M1144.60 269.94v0.8M1144.90 269.94v0.8M1145.20 269.94v0.8M1145.50 269.95v0.8M1145.80 269.95v0.8M1146.10 269.95v0.8M1146.40 269.95v0.8M1146.70 269.95v0.8M1147.00 269.96v0.8M1147.30 269.96v0.8M1147.60 269.96v0.8M1147.90 269.96v0.8M1148.20 269.96v0.8M1148.50 269.97v0.8M1148.80 269.97v0.8M1149.10 269.97v0.8M1149.40 269.97v0.8M1149.70 269.98v0.8M1150.00 269.98v0.8M1150.30 269.98v0.8M1150.60 269.98v0.8M1150.90 269.98v0.8M1151.20 269.99v0.8M1151.50 269.99v0.8M1151.80 269.99v0.8M1152.10 269.99v0.8M1152.40 270.00v0.8M1152.70 270.00v0.8M1153.00 270.00v0.8M1153.30 270.00v0.8M1153.60 270.01v0.8M1153.90 270.01v0.8M1154.20 270.01v0.8M1154.50 270.01v0.8M1154.80 270.02v0.8M1155.10 270.02v0.8M1155.40 270.02v0.8M1155.70 270.02v0.8M1156.00 270.03v0.8M1156.30 270.03v0.8M1156.60 270.03v0.8M1156.90 270.03v0.8M1157.20 270.04v0.8M1157.50 270.04v0.8M1157.80 270.04v0.8M1158.10 270.04v0.8M1158.40 270.05v0.8M1158.70 270.05v0.8M1159.00 270.05v0.8M1159.30 270.05v0.8M1159.60 270.06v0.8M1159.90 270.06v0.8M1160.20 270.06v0.8M1160.50 270.06v0.8M1160.80 270.07v0.8M1161.10 270.07v0.8M1161.40 270.07v0.8M1161.70 270.08v0.8M1162.00 270.08v0.8M1162.30 270.08v0.8M1162.60 270.08v0.8M1162.90 270.09v0.8M1163.20 270.09v0.8M1163.50 270.09v0.8M1163.80 270.09v0.8M1164.10 270.10v0.8M1164.40 270.10v0.8M1164.70 270.10v0.8M1165.00 270.11v0.8M1165.30 270.11v0.8M1165.60 270.11v0.8M1165.90 270.11v0.8M1166.20 270.12v0.8M1166.50 270.12v0.8M1166.80 270.12v0.8M1167.10 270.13v0.8M1167.40 270.13v0.8M1167.70 270.13v0.8M1168.00 270.14v0.8M1168.30 270.14v0.8M1168.60 270.14v0.8M1168.90 270.15v0.8M1169.20 270.15v0.8M1169.50 270.15v0.8M1169.80 270.15v0.8M1170.10 270.16v0.8M1170.40 270.16v0.8M1170.70 270.16v0.8M1171.00 270.17v0.8M1171.30 270.17v0.8M1171.60 270.17v0.8M1171.90 270.18v0.8M1172.20 270.18v0.8M1172.50 270.18v0.8M1172.80 270.19v0.8M1173.10 270.19v0.8M1173.40 270.19v0.8M1173.70 270.20v0.8M1174.00 270.20v0.8M1174.30 270.20v0.8M1174.60 270.21v0.8M1174.90 270.21v0.8M1175.20 270.21v0.8M1175.50 270.22v0.8M1175.80 270.22v0.8M1176.10 270.22v0.8M1176.40 270.23v0.8M1176.70 270.23v0.8M1177.00 270.23v0.8M1177.30 270.24v0.8M1177.60 270.24v0.8M1177.90 270.25v0.8M1178.20 270.25v0.8M1178.50 270.25v0.8M1178.80 270.26v0.8M1179.10 270.26v0.8M1179.40 270.26v0.8M1179.70 270.27v0.8M1180.00 270.27v0.8M1180.30 270.27v0.8M1180.60 270.28v0.8M1180.90 270.28v0.8M1181.20 270.28v0.8M1181.50 270.29v0.8M1181.80 270.29v0.8M1182.10 270.30v0.8M1182.40 270.30v0.8M1182.70 270.30v0.8M1183.00 270.31v0.8M1183.30 270.31v0.8M1183.60 270.31v0.8M1183.90 270.32v0.8M1184.20 270.32v0.8M1184.50 270.33v0.8M1184.80 270.33v0.8M1185.10 270.33v0.8M1185.40 270.34v0.8M1185.70 270.34v0.8M1186.00 270.35v0.8M1186.30 270.35v0.8M1186.60 270.35v0.8M1186.90 270.36v0.8M1187.20 270.36v0.8M1187.50 270.37v0.8M1187.80 270.37v0.8M1188.10 270.38v0.8M1188.40 270.38v0.8M1188.70 270.38v0.8M1189.00 270.39v0.8M1189.30 270.39v0.8M1189.60 270.40v0.8M1189.90 270.40v0.8M1190.20 270.40v0.8M1190.50 270.41v0.8M1190.80 270.41v0.8M1191.10 270.42v0.8M1191.40 270.42v0.8M1191.70 270.43v0.8M1192.00 270.43v0.8M1192.30 270.43v0.8M1192.60 270.44v0.8M1192.90 270.44v0.8M1193.20 270.45v0.8M1193.50 270.45v0.8M1193.80 270.46v0.8M1194.10 270.46v0.8M1194.40 270.47v0.8M1194.70 270.47v0.8M1195.00 270.47v0.8M1195.30 270.48v0.8M1195.60 270.48v0.8M1195.90 270.49v0.8M1196.20 270.49v0.8M1196.50 270.50v0.8M1196.80 270.50v0.8M1197.10 270.51v0.8M1197.40 270.51v0.8M1197.70 270.51v0.8M1198.00 270.52v0.8M1198.30 270.52v0.8M1198.60 270.53v0.8M1198.90 270.53v0.8M1199.20 270.54v0.8M1199.50 270.54v0.8M1199.80 270.55v0.8M1200.10 270.55v0.8M1200.40 270.56v0.8M1200.70 270.56v0.8M1201.00 270.57v0.8M1201.30 270.57v0.8M1201.60 270.57v0.8M1201.90 270.58v0.8M1202.20 270.58v0.8M1202.50 270.59v0.8M1202.80 270.59v0.8M1203.10 270.60v0.8M1203.40 270.60v0.8M1203.70 270.61v0.8M1204.00 270.61v0.8M1204.30 270.62v0.8M1204.60 270.62v0.8M1204.90 270.63v0.8M1205.20 270.63v0.8M1205.50 270.64v0.8M1205.80 270.64v0.8M1206.10 270.65v0.8M1206.40 270.65v0.8M1206.70 270.66v0.8M1207.00 270.66v0.8M1207.30 270.67v0.8M1207.60 270.67v0.8M1207.90 270.68v0.8M1208.20 270.68v0.8M1208.50 270.69v0.8M1208.80 270.69v0.8M1209.10 270.70v0.8M1209.40 270.70v0.8M1209.70 270.71v0.8M1210.00 270.71v0.8M1210.30 270.72v0.8M1210.60 270.72v0.8M1210.90 270.73v0.8M1211.20 270.73v0.8M1211.50 270.74v0.8M1211.80 270.74v0.8M1212.10 270.75v0.8M1212.40 270.75v0.8M1212.70 270.76v0.8M1213.00 270.76v0.8M1213.30 270.77v0.8M1213.60 270.77v0.8M1213.90 270.78v0.8M1214.20 270.79v0.8M1214.50 270.79v0.8M1214.80 270.80v0.8M1215.10 270.80v0.8M1215.40 270.81v0.8M1215.70 270.81v0.8M1216.00 270.82v0.8M1216.30 270.82v0.8M1216.60 270.83v0.8M1216.90 270.83v0.8M1217.20 270.84v0.8M1217.50 270.84v0.8M1217.80 270.85v0.8M1218.10 270.86v0.8M1218.40 270.86v0.8M1218.70 270.87v0.8M1219.00 270.87v0.8M1219.30 270.88v0.8M1219.60 270.88v0.8M1219.90 270.89v0.8M1220.20 270.89v0.8M1220.50 270.90v0.8M1220.80 270.90v0.8M1221.10 270.91v0.8M1221.40 270.92v0.8M1221.70 270.92v0.8M1222.00 270.93v0.8M1222.30 270.93v0.8M1222.60 270.94v0.8M1222.90 270.94v0.8M1223.20 270.95v0.8M1223.50 270.96v0.8M1223.80 270.96v0.8M1224.10 270.97v0.8M1224.40 270.97v0.8M1224.70 270.98v0.8M1225.00 270.99v0.8M1225.30 270.99v0.8M1225.60 271.00v0.8M1225.90 271.00v0.8M1226.20 271.01v0.8M1226.50 271.02v0.8M1226.80 271.02v0.8M1227.10 271.03v0.8M1227.40 271.03v0.8M1227.70 271.04v0.8M1228.00 271.05v0.8M1228.30 271.05v0.8M1228.60 271.06v0.8M1228.90 271.07v0.8M1229.20 271.07v0.8M1229.50 271.08v0.8M1229.80 271.08v0.8M1230.10 271.09v0.8M1230.40 271.10v0.8M1230.70 271.10v0.8M1231.00 271.11v0.8M1231.30 271.11v0.8M1231.60 271.12v0.8M1231.90 271.13v0.8M1232.20 271.13v0.8M1232.50 271.14v0.8M1232.80 271.15v0.8M1233.10 271.15v0.8M1233.40 271.16v0.8M1233.70 271.16v0.8M1234.00 271.17v0.8M1234.30 271.18v0.8M1234.60 271.18v0.8M1234.90 271.19v0.8M1235.20 271.19v0.8M1235.50 271.20v0.8M1235.80 271.21v0.8" fill="none" stroke="#008000" stroke-width="4.5" stroke-linecap="round"/>
<path d="M1231.5 288V334" stroke="#ff0000" stroke-width="3"/>
<path d="M1231.5 274l-4.9 17q4.9 1.2 9.8 0zM1231.5 347.8l-4.9 -17q4.9 -1.2 9.8 0z" fill="#ff0000"/>
<rect x="752.2" y="15.8" width="487.60" height="363.60" fill="none" stroke="#0a0a0a" stroke-width="1.6"/>
<path d="M796.20 379.4v-7.0M796.20 15.8v7.0M884.92 379.4v-7.0M884.92 15.8v7.0M973.64 379.4v-7.0M973.64 15.8v7.0M1062.36 379.4v-7.0M1062.36 15.8v7.0M1151.08 379.4v-7.0M1151.08 15.8v7.0" stroke="#0a0a0a" stroke-width="1.5" fill="none"/>
<path d="M840.56 379.4v-3.8M840.56 15.8v3.8M929.28 379.4v-3.8M929.28 15.8v3.8M1018.00 379.4v-3.8M1018.00 15.8v3.8M1106.72 379.4v-3.8M1106.72 15.8v3.8M1195.44 379.4v-3.8M1195.44 15.8v3.8" stroke="#0a0a0a" stroke-width="1.5" fill="none"/>
<path d="M752.2 349.00h7.0M1239.8 349.00h-7.0M752.2 288.36h7.0M1239.8 288.36h-7.0M752.2 227.72h7.0M1239.8 227.72h-7.0M752.2 167.08h7.0M1239.8 167.08h-7.0M752.2 106.44h7.0M1239.8 106.44h-7.0M752.2 45.80h7.0M1239.8 45.80h-7.0" stroke="#0a0a0a" stroke-width="1.5" fill="none"/>
<path d="M752.2 318.68h3.8M1239.8 318.68h-3.8M752.2 258.04h3.8M1239.8 258.04h-3.8M752.2 197.40h3.8M1239.8 197.40h-3.8M752.2 136.76h3.8M1239.8 136.76h-3.8M752.2 76.12h3.8M1239.8 76.12h-3.8" stroke="#0a0a0a" stroke-width="1.5" fill="none"/>
<text transform="translate(698.75,359.20) scale(0.9500,1)" font-size="34.5" font-weight="bold" font-style="normal">0.0</text>
<text transform="translate(698.34,298.56) scale(0.9500,1)" font-size="34.5" font-weight="bold" font-style="normal">0.5</text>
<text transform="translate(698.75,237.92) scale(0.9500,1)" font-size="34.5" font-weight="bold" font-style="normal">1.0</text>
<text transform="translate(698.34,177.28) scale(0.9500,1)" font-size="34.5" font-weight="bold" font-style="normal">1.5</text>
<text transform="translate(698.75,116.64) scale(0.9500,1)" font-size="34.5" font-weight="bold" font-style="normal">2.0</text>
<text transform="translate(698.34,56.00) scale(0.9500,1)" font-size="34.5" font-weight="bold" font-style="normal">2.5</text>
<text transform="translate(796.20,414.00) scale(0.95,1)" font-size="34.5" font-weight="bold" text-anchor="middle">0</text>
<text transform="translate(884.92,414.00) scale(0.95,1)" font-size="34.5" font-weight="bold" text-anchor="middle">100</text>
<text transform="translate(973.64,414.00) scale(0.95,1)" font-size="34.5" font-weight="bold" text-anchor="middle">200</text>
<text transform="translate(1062.36,414.00) scale(0.95,1)" font-size="34.5" font-weight="bold" text-anchor="middle">300</text>
<text transform="translate(1151.08,414.00) scale(0.95,1)" font-size="34.5" font-weight="bold" text-anchor="middle">400</text>
<text transform="translate(1239.80,414.00) scale(0.95,1)" font-size="34.5" font-weight="bold" text-anchor="middle">500</text>
<text transform="translate(1031.13,322.10) scale(0.9592,1)" font-size="33.0" font-weight="normal" font-style="normal">Joule Heating</text>
<text transform="translate(1043.75,51.70) scale(0.9480,1)" font-size="33.0" font-weight="normal" font-style="normal">12CB</text>
<text transform="translate(0,89.90)" font-size="33.0"><tspan x="1044.06" y="0" font-weight="normal" font-style="italic" textLength="21.01" lengthAdjust="spacingAndGlyphs">E</tspan><tspan x="1065.06" y="0" font-weight="normal" font-style="normal" textLength="149.67" lengthAdjust="spacingAndGlyphs"> =30 kVcm</tspan><tspan x="1215.31" y="-9.4" font-size="23.0" textLength="15.55" lengthAdjust="spacingAndGlyphs">-1</tspan></text>
<text transform="translate(0,51.70)"><tspan x="978.00" y="0.00" font-size="39.0" font-weight="normal" font-style="normal" textLength="11.18" lengthAdjust="spacingAndGlyphs">(</tspan><tspan x="991.38" y="0.00" font-size="39.0" font-weight="bold" font-style="normal" textLength="23.71" lengthAdjust="spacingAndGlyphs">b</tspan><tspan x="1018.14" y="0.00" font-size="39.0" font-weight="normal" font-style="normal" textLength="11.44" lengthAdjust="spacingAndGlyphs">)</tspan></text>
<text transform="translate(0,479.20)"><tspan x="957.69" y="0.00" font-size="53.0" font-weight="bold" font-style="italic" textLength="15.78" lengthAdjust="spacingAndGlyphs">t</tspan><tspan> </tspan><tspan x="988.09" y="-0.40" font-size="50.5" font-weight="bold" font-style="normal" textLength="15.21" lengthAdjust="spacingAndGlyphs">[</tspan><tspan x="1004.16" y="0.00" font-size="53.0" font-weight="bold" font-style="normal" textLength="29.31" lengthAdjust="spacingAndGlyphs">s</tspan><tspan x="1034.34" y="-0.40" font-size="50.5" font-weight="bold" font-style="normal" textLength="14.83" lengthAdjust="spacingAndGlyphs">]</tspan></text>
<text transform="translate(673.90,0) rotate(-90)"><tspan x="-267.27" y="0.00" font-size="53.0" font-weight="bold" font-style="normal" textLength="40.81" lengthAdjust="spacingAndGlyphs">Δ</tspan><tspan x="-224.83" y="0.00" font-size="53.0" font-weight="bold" font-style="italic" textLength="29.04" lengthAdjust="spacingAndGlyphs">T</tspan><tspan> </tspan><tspan x="-180.73" y="-0.40" font-size="50.5" font-weight="bold" font-style="normal" textLength="14.70" lengthAdjust="spacingAndGlyphs">[</tspan><tspan x="-164.22" y="0.00" font-size="53.0" font-weight="bold" font-style="normal" textLength="35.49" lengthAdjust="spacingAndGlyphs">K</tspan><tspan x="-127.55" y="-0.40" font-size="50.5" font-weight="bold" font-style="normal" textLength="14.70" lengthAdjust="spacingAndGlyphs">]</tspan></text>
</g>
<path d="M1381.02 55.90v0.40M1381.32 60.98v0.40M1381.62 66.24v0.40M1381.92 71.63v0.40M1382.22 77.13v0.40M1382.52 82.68v0.40M1382.82 88.21v0.40M1383.12 93.72v0.40M1383.42 99.12v0.40M1383.72 104.38v0.40M1384.02 109.47v0.40M1384.32 114.38v0.40M1384.62 119.10v0.41M1384.92 123.62v0.41M1385.22 127.94v0.41M1385.52 132.06v0.41M1385.82 136.01v0.41M1386.12 139.78v0.41M1386.42 143.40v0.41M1386.72 146.87v0.41M1387.02 150.20v0.41M1387.32 153.39v0.41M1387.62 156.47v0.41M1387.92 159.41v0.42M1388.22 162.22v0.42M1388.52 164.91v0.42M1388.82 167.49v0.42M1389.12 169.95v0.42M1389.42 172.30v0.42M1389.72 174.57v0.43M1390.02 176.74v0.43M1390.32 178.82v0.43M1390.62 180.82v0.44M1390.92 182.75v0.44M1391.22 184.61v0.44M1391.52 186.41v0.45M1391.82 188.15v0.45M1392.12 189.83v0.45M1392.42 191.46v0.46M1392.72 193.03v0.46M1393.02 194.57v0.47M1393.32 196.06v0.47M1393.62 197.51v0.48M1393.92 198.92v0.49M1394.22 200.29v0.49M1394.52 201.63v0.50M1394.82 202.93v0.51M1395.12 204.20v0.52M1395.42 205.45v0.52M1395.72 206.66v0.53M1396.02 207.84v0.54M1396.32 209.00v0.55M1396.62 210.13v0.56M1396.92 211.23v0.57M1397.22 212.32v0.58M1397.52 213.38v0.60M1397.82 214.41v0.61M1398.12 215.43v0.62M1398.42 216.43v0.64M1398.72 217.41v0.65M1399.02 218.37v0.66M1399.32 219.31v0.68M1399.62 220.23v0.70M1399.92 221.14v0.71M1400.22 222.03v0.73M1400.52 222.91v0.75M1400.82 223.77v0.77M1401.12 224.62v0.78M1401.42 225.45v0.80M1401.72 226.27v0.82M1402.02 227.08v0.84M1402.32 227.87v0.86M1402.62 228.67v0.88M1402.92 229.46v0.91M1403.22 230.24v0.93M1403.52 230.98v0.95M1403.82 231.67v0.97M1404.12 232.33v1.00M1404.42 232.98v1.02M1404.72 233.60v1.04M1405.02 234.19v1.07M1405.32 234.74v1.09M1405.62 235.24v1.11M1405.92 235.68v1.14M1406.22 236.09v1.16M1406.52 236.46v1.18M1406.82 236.82v1.21M1407.12 237.16v1.23M1407.42 237.49v1.25M1407.72 237.84v1.28M1408.02 238.18v1.30M1408.32 238.53v1.32M1408.62 238.87v1.34M1408.92 239.21v1.36M1409.22 239.53v1.38M1409.52 239.84v1.40M1409.82 240.14v1.42M1410.12 240.44v1.44M1410.42 240.73v1.46M1410.72 241.01v1.48M1411.02 241.28v1.49M1411.32 241.53v1.51M1411.62 241.76v1.52M1411.92 241.97v1.53M1412.22 242.19v1.55M1412.52 242.39v1.56M1412.82 242.58v1.57M1413.12 242.75v1.58M1413.42 242.89v1.58M1413.72 242.99v1.59M1414.02 243.07v1.59M1414.32 243.15v1.60M1414.62 243.22v1.60M1414.92 243.28v1.60M1415.22 243.32v1.60M1415.52 243.35v1.60M1415.82 243.35v1.60M1416.12 243.32v1.59M1416.42 243.27v1.59M1416.72 243.19v1.58M1417.02 243.10v1.57M1417.32 243.00v1.56M1417.62 242.90v1.55M1417.92 242.79v1.54M1418.22 242.66v1.53M1418.52 242.50v1.52M1418.82 242.32v1.50M1419.12 242.13v1.49M1419.42 241.94v1.47M1419.72 241.75v1.45M1420.02 241.55v1.43M1420.32 241.34v1.41M1420.62 241.12v1.40M1420.92 240.89v1.38M1421.22 240.66v1.35M1421.52 240.43v1.33M1421.82 240.20v1.31M1422.12 239.96v1.29M1422.42 239.72v1.27M1422.72 239.47v1.24M1423.02 239.22v1.22M1423.32 238.97v1.20M1423.62 238.71v1.17M1423.92 238.46v1.15M1424.22 238.20v1.13M1424.52 237.94v1.10M1424.82 237.68v1.08M1425.12 237.41v1.05M1425.42 237.15v1.03M1425.72 236.88v1.01M1426.02 236.60v0.98M1426.32 236.33v0.96M1426.62 236.05v0.94M1426.92 235.76v0.92M1427.22 235.48v0.90M1427.52 235.19v0.87M1427.82 234.90v0.85M1428.12 234.61v0.83M1428.42 234.31v0.81M1428.72 234.01v0.79M1429.02 233.71v0.77M1429.32 233.40v0.76M1429.62 233.09v0.74M1429.92 232.78v0.72M1430.22 232.47v0.70M1430.52 232.15v0.69M1430.82 231.83v0.67M1431.12 231.51v0.66M1431.42 231.18v0.64M1431.72 230.85v0.63M1432.02 230.52v0.62M1432.32 230.19v0.60M1432.62 229.85v0.59M1432.92 229.51v0.58M1433.22 229.17v0.57M1433.52 228.82v0.56M1433.82 228.47v0.55M1434.12 228.12v0.54M1434.42 227.77v0.53M1434.72 227.41v0.52M1435.02 227.05v0.51M1435.32 226.69v0.50M1435.62 226.32v0.50M1435.92 225.95v0.49M1436.22 225.58v0.48M1436.52 225.20v0.48M1436.82 224.82v0.47M1437.12 224.44v0.47M1437.42 224.05v0.46M1437.72 223.66v0.46M1438.02 223.27v0.45M1438.32 222.88v0.45M1438.62 222.48v0.44M1438.92 222.08v0.44M1439.22 221.68v0.44M1439.52 221.28v0.43M1439.82 220.87v0.43M1440.12 220.46v0.43M1440.42 220.05v0.43M1440.72 219.63v0.42M1441.02 219.21v0.42M1441.32 218.79v0.42M1441.62 218.36v0.42M1441.92 217.94v0.42M1442.22 217.50v0.41M1442.52 217.07v0.41M1442.82 216.63v0.41M1443.12 216.19v0.41M1443.42 215.75v0.41M1443.72 215.30v0.41M1444.02 214.86v0.41M1444.32 214.41v0.41M1444.62 213.95v0.41M1444.92 213.50v0.41M1445.22 213.04v0.41M1445.52 212.57v0.40M1445.82 212.11v0.40M1446.12 211.64v0.40M1446.42 211.17v0.40M1446.72 210.70v0.40M1447.02 210.22v0.40M1447.32 209.74v0.40M1447.62 209.26v0.40M1447.92 208.77v0.40M1448.22 208.28v0.40M1448.52 207.79v0.40M1448.82 207.29v0.40M1449.12 206.80v0.40M1449.42 206.30v0.40M1449.72 205.79v0.40M1450.02 205.29v0.40M1450.32 204.79v0.40M1450.62 204.28v0.40M1450.92 203.77v0.40M1451.22 203.26v0.40M1451.52 202.75v0.40M1451.82 202.23v0.40M1452.12 201.71v0.40M1452.42 201.19v0.40M1452.72 200.67v0.40M1453.02 200.15v0.40M1453.32 199.62v0.40M1453.62 199.10v0.40M1453.92 198.57v0.40M1454.22 198.04v0.40M1454.52 197.51v0.40M1454.82 196.98v0.40M1455.12 196.45v0.40M1455.42 195.92v0.40M1455.72 195.38v0.40M1456.02 194.85v0.40M1456.32 194.31v0.40M1456.62 193.78v0.40M1456.92 193.24v0.40M1457.22 192.71v0.40M1457.52 192.17v0.40M1457.82 191.63v0.40M1458.12 191.09v0.40M1458.42 190.55v0.40M1458.72 190.01v0.40M1459.02 189.47v0.40M1459.32 188.93v0.40M1459.62 188.39v0.40M1459.92 187.85v0.40M1460.22 187.31v0.40M1460.52 186.78v0.40M1460.82 186.24v0.40M1461.12 185.70v0.40M1461.42 185.16v0.40M1461.72 184.63v0.40M1462.02 184.09v0.40M1462.32 183.55v0.40M1462.62 183.02v0.40M1462.92 182.48v0.40M1463.22 181.95v0.40M1463.52 181.41v0.40M1463.82 180.88v0.40M1464.12 180.35v0.40M1464.42 179.82v0.40M1464.72 179.30v0.40M1465.02 178.77v0.40M1465.32 178.25v0.40M1465.62 177.73v0.40M1465.92 177.21v0.40M1466.22 176.69v0.40M1466.52 176.17v0.40M1466.82 175.66v0.40M1467.12 175.14v0.40M1467.42 174.63v0.40M1467.72 174.12v0.40M1468.02 173.61v0.40M1468.32 173.10v0.40M1468.62 172.59v0.40M1468.92 172.08v0.40M1469.22 171.58v0.40M1469.52 171.08v0.40M1469.82 170.58v0.40M1470.12 170.08v0.40M1470.42 169.58v0.40M1470.72 169.08v0.40M1471.02 168.59v0.40M1471.32 168.10v0.40M1471.62 167.61v0.40M1471.92 167.12v0.40M1472.22 166.63v0.40M1472.52 166.15v0.40M1472.82 165.66v0.40M1473.12 165.18v0.40M1473.42 164.70v0.40M1473.72 164.23v0.40M1474.02 163.75v0.40M1474.32 163.27v0.40M1474.62 162.80v0.40M1474.92 162.33v0.40M1475.22 161.86v0.40M1475.52 161.39v0.40M1475.82 160.92v0.40M1476.12 160.46v0.40M1476.42 160.00v0.40M1476.72 159.54v0.40M1477.02 159.08v0.40M1477.32 158.62v0.40M1477.62 158.16v0.40M1477.92 157.71v0.40M1478.22 157.26v0.40M1478.52 156.81v0.40M1478.82 156.36v0.40M1479.12 155.91v0.40M1479.42 155.46v0.40M1479.72 155.02v0.40M1480.02 154.58v0.40M1480.32 154.14v0.40M1480.62 153.70v0.40M1480.92 153.26v0.40M1481.22 152.82v0.40M1481.52 152.39v0.40M1481.82 151.96v0.40M1482.12 151.53v0.40M1482.42 151.10v0.40M1482.72 150.67v0.40M1483.02 150.24v0.40M1483.32 149.82v0.40M1483.62 149.40v0.40M1483.92 148.98v0.40M1484.22 148.56v0.40M1484.52 148.15v0.40M1484.82 147.73v0.40M1485.12 147.32v0.40M1485.42 146.91v0.40M1485.72 146.50v0.40M1486.02 146.09v0.40M1486.32 145.68v0.40M1486.62 145.28v0.40M1486.92 144.88v0.40M1487.22 144.48v0.40M1487.52 144.08v0.40M1487.82 143.68v0.40M1488.12 143.28v0.40M1488.42 142.89v0.40M1488.72 142.50v0.40M1489.02 142.10v0.40M1489.32 141.71v0.40M1489.62 141.33v0.40M1489.92 140.94v0.40M1490.22 140.56v0.40M1490.52 140.17v0.40M1490.82 139.79v0.40M1491.12 139.41v0.40M1491.42 139.04v0.40M1491.72 138.66v0.40M1492.02 138.28v0.40M1492.32 137.91v0.40M1492.62 137.54v0.40M1492.92 137.17v0.40M1493.22 136.80v0.40M1493.52 136.43v0.40M1493.82 136.07v0.40M1494.12 135.70v0.40M1494.42 135.34v0.40M1494.72 134.98v0.40M1495.02 134.62v0.40M1495.32 134.26v0.40M1495.62 133.91v0.40M1495.92 133.55v0.40M1496.22 133.20v0.40M1496.52 132.85v0.40M1496.82 132.50v0.40M1497.12 132.15v0.40M1497.42 131.80v0.40M1497.72 131.46v0.40M1498.02 131.11v0.40M1498.32 130.77v0.40M1498.62 130.43v0.40M1498.92 130.09v0.40M1499.22 129.75v0.40M1499.52 129.42v0.40M1499.82 129.08v0.40M1500.12 128.75v0.40M1500.42 128.41v0.40M1500.72 128.08v0.40M1501.02 127.75v0.40M1501.32 127.43v0.40M1501.62 127.10v0.40M1501.92 126.78v0.40M1502.22 126.45v0.40M1502.52 126.13v0.40M1502.82 125.81v0.40M1503.12 125.49v0.40M1503.42 125.17v0.40M1503.72 124.86v0.40M1504.02 124.54v0.40M1504.32 124.23v0.40M1504.62 123.91v0.40M1504.92 123.60v0.40M1505.22 123.29v0.40M1505.52 122.99v0.40M1505.82 122.68v0.40M1506.12 122.37v0.40M1506.42 122.07v0.40M1506.72 121.77v0.40M1507.02 121.46v0.40M1507.32 121.16v0.40M1507.62 120.87v0.40M1507.92 120.57v0.40M1508.22 120.27v0.40M1508.52 119.98v0.40M1508.82 119.68v0.40M1509.12 119.39v0.40M1509.42 119.10v0.40M1509.72 118.81v0.40M1510.02 118.52v0.40M1510.32 118.23v0.40M1510.62 117.95v0.40M1510.92 117.66v0.40M1511.22 117.38v0.40M1511.52 117.10v0.40M1511.82 116.81v0.40M1512.12 116.54v0.40M1512.42 116.26v0.40M1512.72 115.98v0.40M1513.02 115.70v0.40M1513.32 115.43v0.40M1513.62 115.15v0.40M1513.92 114.88v0.40M1514.22 114.61v0.40M1514.52 114.34v0.40M1514.82 114.07v0.40M1515.12 113.80v0.40M1515.42 113.54v0.40M1515.72 113.27v0.40M1516.02 113.01v0.40M1516.32 112.75v0.40M1516.62 112.48v0.40M1516.92 112.22v0.40M1517.22 111.96v0.40M1517.52 111.70v0.40M1517.82 111.45v0.40M1518.12 111.19v0.40M1518.42 110.94v0.40M1518.72 110.68v0.40M1519.02 110.43v0.40M1519.32 110.18v0.40M1519.62 109.93v0.40M1519.92 109.68v0.40M1520.22 109.43v0.40M1520.52 109.18v0.40M1520.82 108.93v0.40M1521.12 108.69v0.40M1521.42 108.44v0.40M1521.72 108.20v0.40M1522.02 107.95v0.40M1522.32 107.71v0.40M1522.62 107.47v0.40M1522.92 107.23v0.40M1523.22 106.99v0.40M1523.52 106.76v0.40M1523.82 106.52v0.40M1524.12 106.28v0.40M1524.42 106.05v0.40M1524.72 105.81v0.40M1525.02 105.58v0.40M1525.32 105.35v0.40M1525.62 105.12v0.40M1525.92 104.89v0.40M1526.22 104.66v0.40M1526.52 104.43v0.40M1526.82 104.21v0.40M1527.12 103.98v0.40M1527.42 103.76v0.40M1527.72 103.53v0.40M1528.02 103.31v0.40M1528.32 103.09v0.40M1528.62 102.87v0.40M1528.92 102.65v0.40M1529.22 102.43v0.40M1529.52 102.21v0.40M1529.82 101.99v0.40M1530.12 101.78v0.40M1530.42 101.56v0.40M1530.72 101.35v0.40M1531.02 101.13v0.40M1531.32 100.92v0.40M1531.62 100.71v0.40M1531.92 100.50v0.40M1532.22 100.29v0.40M1532.52 100.08v0.40M1532.82 99.87v0.40M1533.12 99.66v0.40M1533.42 99.45v0.40M1533.72 99.25v0.40M1534.02 99.04v0.40M1534.32 98.84v0.40M1534.62 98.63v0.40M1534.92 98.43v0.40M1535.22 98.23v0.40M1535.52 98.02v0.40M1535.82 97.82v0.40M1536.12 97.62v0.40M1536.42 97.43v0.40M1536.72 97.23v0.40M1537.02 97.03v0.40M1537.32 96.83v0.40M1537.62 96.64v0.40M1537.92 96.44v0.40M1538.22 96.25v0.40M1538.52 96.05v0.40M1538.82 95.86v0.40M1539.12 95.67v0.40M1539.42 95.48v0.40M1539.72 95.28v0.40M1540.02 95.09v0.40M1540.32 94.91v0.40M1540.62 94.72v0.40M1540.92 94.53v0.40M1541.22 94.34v0.40M1541.52 94.15v0.40M1541.82 93.97v0.40M1542.12 93.78v0.40M1542.42 93.60v0.40M1542.72 93.42v0.40M1543.02 93.23v0.40M1543.32 93.05v0.40M1543.62 92.87v0.40M1543.92 92.69v0.40M1544.22 92.51v0.40M1544.52 92.33v0.40M1544.82 92.15v0.40M1545.12 91.97v0.40M1545.42 91.79v0.40M1545.72 91.62v0.40M1546.02 91.44v0.40M1546.32 91.26v0.40M1546.62 91.09v0.40M1546.92 90.92v0.40M1547.22 90.74v0.40M1547.52 90.57v0.40M1547.82 90.40v0.40M1548.12 90.23v0.40M1548.42 90.06v0.40M1548.72 89.89v0.40M1549.02 89.72v0.40M1549.32 89.55v0.40M1549.62 89.38v0.40M1549.92 89.21v0.40M1550.22 89.05v0.40M1550.52 88.88v0.40M1550.82 88.72v0.40M1551.12 88.55v0.40M1551.42 88.39v0.40M1551.72 88.23v0.40M1552.02 88.07v0.40M1552.32 87.90v0.40M1552.62 87.74v0.40M1552.92 87.58v0.40M1553.22 87.42v0.40M1553.52 87.27v0.40M1553.82 87.11v0.40M1554.12 86.95v0.40M1554.42 86.79v0.40M1554.72 86.64v0.40M1555.02 86.48v0.40M1555.32 86.33v0.40M1555.62 86.17v0.40M1555.92 86.02v0.40M1556.22 85.87v0.40M1556.52 85.72v0.40M1556.82 85.56v0.40M1557.12 85.41v0.40M1557.42 85.26v0.40M1557.72 85.11v0.40M1558.02 84.96v0.40M1558.32 84.81v0.40M1558.62 84.67v0.40M1558.92 84.52v0.40M1559.22 84.37v0.40M1559.52 84.22v0.40M1559.82 84.08v0.40M1560.12 83.93v0.40M1560.42 83.79v0.40M1560.72 83.65v0.40M1561.02 83.50v0.40M1561.32 83.36v0.40M1561.62 83.22v0.40M1561.92 83.08v0.40M1562.22 82.94v0.40M1562.52 82.80v0.40M1562.82 82.66v0.40M1563.12 82.52v0.40M1563.42 82.38v0.40M1563.72 82.24v0.40M1564.02 82.11v0.40M1564.32 81.97v0.40M1564.62 81.84v0.40M1564.92 81.70v0.40M1565.22 81.57v0.40M1565.52 81.43v0.40M1565.82 81.30v0.40M1566.12 81.17v0.40M1566.42 81.04v0.40M1566.72 80.90v0.40M1567.02 80.77v0.40M1567.32 80.64v0.40M1567.62 80.51v0.40M1567.92 80.38v0.40M1568.22 80.26v0.40M1568.52 80.13v0.40M1568.82 80.00v0.40M1569.12 79.87v0.40M1569.42 79.75v0.40M1569.72 79.62v0.40M1570.02 79.49v0.40M1570.32 79.37v0.40M1570.62 79.24v0.40M1570.92 79.12v0.40M1571.22 79.00v0.40M1571.52 78.87v0.40M1571.82 78.75v0.40M1572.12 78.63v0.40M1572.42 78.51v0.40M1572.72 78.39v0.40M1573.02 78.27v0.40M1573.32 78.15v0.40M1573.62 78.03v0.40M1573.92 77.91v0.40M1574.22 77.79v0.40M1574.52 77.68v0.40M1574.82 77.56v0.40M1575.12 77.44v0.40M1575.42 77.33v0.40M1575.72 77.21v0.40M1576.02 77.10v0.40M1576.32 76.98v0.40M1576.62 76.87v0.40M1576.92 76.76v0.40M1577.22 76.65v0.40M1577.52 76.53v0.40M1577.82 76.42v0.40M1578.12 76.31v0.40M1578.42 76.20v0.40M1578.72 76.09v0.40M1579.02 75.98v0.40M1579.32 75.87v0.40M1579.62 75.77v0.40M1579.92 75.66v0.40M1580.22 75.55v0.40M1580.52 75.44v0.40M1580.82 75.34v0.40M1581.12 75.23v0.40M1581.42 75.13v0.40M1581.72 75.02v0.40M1582.02 74.92v0.40M1582.32 74.81v0.40M1582.62 74.71v0.40M1582.92 74.61v0.40M1583.22 74.51v0.40M1583.52 74.40v0.40M1583.82 74.30v0.40M1584.12 74.20v0.40M1584.42 74.10v0.40M1584.72 74.00v0.40M1585.02 73.90v0.40M1585.32 73.80v0.40M1585.62 73.70v0.40M1585.92 73.61v0.40M1586.22 73.51v0.40M1586.52 73.41v0.40M1586.82 73.31v0.40M1587.12 73.22v0.40M1587.42 73.12v0.40M1587.72 73.03v0.40M1588.02 72.93v0.40M1588.32 72.84v0.40M1588.62 72.75v0.40M1588.92 72.65v0.40M1589.22 72.56v0.40M1589.52 72.47v0.40M1589.82 72.37v0.40M1590.12 72.28v0.40M1590.42 72.19v0.40M1590.72 72.10v0.40M1591.02 72.01v0.40M1591.32 71.92v0.40M1591.62 71.83v0.40M1591.92 71.74v0.40M1592.22 71.65v0.40M1592.52 71.57v0.40M1592.82 71.48v0.40M1593.12 71.39v0.40M1593.42 71.30v0.40M1593.72 71.22v0.40M1594.02 71.13v0.40M1594.32 71.05v0.40M1594.62 70.96v0.40M1594.92 70.88v0.40M1595.22 70.79v0.40M1595.52 70.71v0.40M1595.82 70.62v0.40M1596.12 70.54v0.40M1596.42 70.46v0.40M1596.72 70.38v0.40M1597.02 70.29v0.40M1597.32 70.21v0.40M1597.62 70.13v0.40M1597.92 70.05v0.40M1598.22 69.97v0.40M1598.52 69.89v0.40M1598.82 69.81v0.40M1599.12 69.73v0.40M1599.42 69.65v0.40M1599.72 69.58v0.40M1600.02 69.50v0.40M1600.32 69.42v0.40M1600.62 69.34v0.40M1600.92 69.27v0.40M1601.22 69.19v0.40M1601.52 69.11v0.40M1601.82 69.04v0.40M1602.12 68.96v0.40M1602.42 68.89v0.40M1602.72 68.81v0.40M1603.02 68.74v0.40M1603.32 68.67v0.40M1603.62 68.59v0.40M1603.92 68.52v0.40M1604.22 68.45v0.40M1604.52 68.37v0.40M1604.82 68.30v0.40M1605.12 68.23v0.40M1605.42 68.16v0.40M1605.72 68.09v0.40M1606.02 68.02v0.40M1606.32 67.95v0.40M1606.62 67.88v0.40M1606.92 67.81v0.40M1607.22 67.74v0.40M1607.52 67.67v0.40M1607.82 67.60v0.40M1608.12 67.54v0.40M1608.42 67.47v0.40M1608.72 67.40v0.40M1609.02 67.34v0.40M1609.32 67.27v0.40M1609.62 67.20v0.40M1609.92 67.14v0.40M1610.22 67.07v0.40M1610.52 67.01v0.40M1610.82 66.94v0.40M1611.12 66.88v0.40M1611.42 66.81v0.40M1611.72 66.75v0.40M1612.02 66.69v0.40M1612.32 66.63v0.40M1612.62 66.56v0.40M1612.92 66.50v0.40M1613.22 66.44v0.40M1613.52 66.38v0.40M1613.82 66.32v0.40M1614.12 66.26v0.40M1614.42 66.19v0.40M1614.72 66.13v0.40M1615.02 66.07v0.40M1615.32 66.01v0.40M1615.62 65.95v0.40M1615.92 65.90v0.40M1616.22 65.84v0.40M1616.52 65.78v0.40M1616.82 65.72v0.40M1617.12 65.66v0.40M1617.42 65.60v0.40M1617.72 65.54v0.40M1618.02 65.49v0.40M1618.32 65.43v0.40M1618.62 65.37v0.40M1618.92 65.32v0.40M1619.22 65.26v0.40M1619.52 65.20v0.40M1619.82 65.15v0.40M1620.12 65.09v0.40M1620.42 65.04v0.40M1620.72 64.98v0.40M1621.02 64.93v0.40M1621.32 64.87v0.40M1621.62 64.82v0.40M1621.92 64.76v0.40M1622.22 64.71v0.40M1622.52 64.66v0.40M1622.82 64.61v0.40M1623.12 64.55v0.40M1623.42 64.50v0.40M1623.72 64.45v0.40M1624.02 64.40v0.40M1624.32 64.35v0.40M1624.62 64.29v0.40M1624.92 64.24v0.40M1625.22 64.19v0.40M1625.52 64.14v0.40M1625.82 64.09v0.40M1626.12 64.04v0.40M1626.42 63.99v0.40M1626.72 63.95v0.40M1627.02 63.90v0.40M1627.32 63.85v0.40M1627.62 63.80v0.40M1627.92 63.75v0.40M1628.22 63.71v0.40M1628.52 63.66v0.40M1628.82 63.61v0.40M1629.12 63.56v0.40M1629.42 63.52v0.40M1629.72 63.47v0.40M1630.02 63.43v0.40M1630.32 63.38v0.40M1630.62 63.33v0.40M1630.92 63.29v0.40M1631.22 63.24v0.40M1631.52 63.20v0.40M1631.82 63.16v0.40M1632.12 63.11v0.40M1632.42 63.07v0.40M1632.72 63.02v0.40M1633.02 62.98v0.40M1633.32 62.94v0.40M1633.62 62.89v0.40M1633.92 62.85v0.40M1634.22 62.81v0.40M1634.52 62.77v0.40M1634.82 62.72v0.40M1635.12 62.68v0.40M1635.42 62.64v0.40M1635.72 62.60v0.40M1636.02 62.56v0.40M1636.32 62.52v0.40M1636.62 62.48v0.40M1636.92 62.43v0.40M1637.22 62.39v0.40M1637.52 62.35v0.40M1637.82 62.31v0.40M1638.12 62.27v0.40M1638.42 62.23v0.40M1638.72 62.19v0.40M1639.02 62.16v0.40M1639.32 62.12v0.40M1639.62 62.08v0.40M1639.92 62.04v0.40M1640.22 62.00v0.40M1640.52 61.96v0.40M1640.82 61.93v0.40M1641.12 61.89v0.40M1641.42 61.85v0.40M1641.72 61.82v0.40M1642.02 61.78v0.40M1642.32 61.74v0.40M1642.62 61.71v0.40M1642.92 61.67v0.40M1643.22 61.63v0.40M1643.52 61.60v0.40M1643.82 61.56v0.40M1644.12 61.53v0.40M1644.42 61.49v0.40M1644.72 61.46v0.40M1645.02 61.42v0.40M1645.32 61.39v0.40M1645.62 61.35v0.40M1645.92 61.32v0.40M1646.22 61.28v0.40M1646.52 61.25v0.40M1646.82 61.22v0.40M1647.12 61.18v0.40M1647.42 61.15v0.40M1647.72 61.12v0.40M1648.02 61.08v0.40M1648.32 61.05v0.40M1648.62 61.02v0.40M1648.92 60.98v0.40M1649.22 60.95v0.40M1649.52 60.92v0.40M1649.82 60.89v0.40M1650.12 60.86v0.40M1650.42 60.82v0.40M1650.72 60.79v0.40M1651.02 60.76v0.40M1651.32 60.73v0.40M1651.62 60.70v0.40M1651.92 60.67v0.40M1652.22 60.64v0.40M1652.52 60.61v0.40M1652.82 60.58v0.40M1653.12 60.55v0.40M1653.42 60.52v0.40M1653.72 60.49v0.40M1654.02 60.46v0.40M1654.32 60.43v0.40M1654.62 60.40v0.40M1654.92 60.37v0.40M1655.22 60.35v0.40M1655.52 60.32v0.40M1655.82 60.29v0.40M1656.12 60.26v0.40M1656.42 60.23v0.40M1656.72 60.21v0.40M1657.02 60.18v0.40M1657.32 60.15v0.40M1657.62 60.12v0.40M1657.92 60.10v0.40M1658.22 60.07v0.40M1658.52 60.04v0.40M1658.82 60.02v0.40M1659.12 59.99v0.40M1659.42 59.96v0.40M1659.72 59.94v0.40M1660.02 59.91v0.40M1660.32 59.89v0.40M1660.62 59.86v0.40M1660.92 59.83v0.40M1661.22 59.81v0.40M1661.52 59.78v0.40M1661.82 59.76v0.40M1662.12 59.73v0.40M1662.42 59.71v0.40M1662.72 59.68v0.40M1663.02 59.66v0.40M1663.32 59.64v0.40M1663.62 59.61v0.40M1663.92 59.59v0.40M1664.22 59.56v0.40M1664.52 59.54v0.40M1664.82 59.51v0.40M1665.12 59.49v0.40M1665.42 59.47v0.40M1665.72 59.44v0.40M1666.02 59.42v0.40M1666.32 59.40v0.40M1666.62 59.37v0.40M1666.92 59.35v0.40M1667.22 59.33v0.40M1667.52 59.30v0.40M1667.82 59.28v0.40M1668.12 59.26v0.40M1668.42 59.24v0.40M1668.72 59.21v0.40M1669.02 59.19v0.40M1669.32 59.17v0.40M1669.62 59.15v0.40M1669.92 59.13v0.40M1670.22 59.10v0.40M1670.52 59.08v0.40M1670.82 59.06v0.40M1671.12 59.04v0.40M1671.42 59.02v0.40M1671.72 59.00v0.40M1672.02 58.98v0.40M1672.32 58.96v0.40M1672.62 58.94v0.40M1672.92 58.92v0.40M1673.22 58.90v0.40M1673.52 58.87v0.40M1673.82 58.85v0.40M1674.12 58.83v0.40M1674.42 58.81v0.40M1674.72 58.79v0.40M1675.02 58.77v0.40M1675.32 58.75v0.40M1675.62 58.73v0.40M1675.92 58.72v0.40M1676.22 58.70v0.40M1676.52 58.68v0.40M1676.82 58.66v0.40M1677.12 58.64v0.40M1677.42 58.62v0.40M1677.72 58.60v0.40M1678.02 58.58v0.40M1678.32 58.56v0.40M1678.62 58.54v0.40M1678.92 58.52v0.40M1679.22 58.50v0.40M1679.52 58.48v0.40M1679.82 58.46v0.40M1680.12 58.44v0.40M1680.42 58.43v0.40M1680.72 58.41v0.40M1681.02 58.39v0.40M1681.32 58.37v0.40M1681.62 58.35v0.40M1681.92 58.33v0.40M1682.22 58.32v0.40M1682.52 58.30v0.40M1682.82 58.28v0.40M1683.12 58.26v0.40M1683.42 58.25v0.40M1683.72 58.23v0.40M1684.02 58.21v0.40M1684.32 58.19v0.40M1684.62 58.18v0.40M1684.92 58.16v0.40M1685.22 58.14v0.40M1685.52 58.13v0.40M1685.82 58.11v0.40M1686.12 58.09v0.40M1686.42 58.08v0.40M1686.72 58.06v0.40M1687.02 58.04v0.40M1687.32 58.03v0.40M1687.62 58.01v0.40M1687.92 57.99v0.40M1688.22 57.98v0.40M1688.52 57.96v0.40M1688.82 57.95v0.40M1689.12 57.93v0.40M1689.42 57.91v0.40M1689.72 57.90v0.40M1690.02 57.88v0.40M1690.32 57.87v0.40M1690.62 57.85v0.40M1690.92 57.84v0.40M1691.22 57.82v0.40M1691.52 57.80v0.40M1691.82 57.79v0.40M1692.12 57.77v0.40M1692.42 57.76v0.40M1692.72 57.74v0.40M1693.02 57.73v0.40M1693.32 57.71v0.40M1693.62 57.70v0.40M1693.92 57.68v0.40M1694.22 57.67v0.40M1694.52 57.65v0.40M1694.82 57.64v0.40M1695.12 57.63v0.40M1695.42 57.61v0.40M1695.72 57.60v0.40M1696.02 57.58v0.40M1696.32 57.57v0.40M1696.62 57.55v0.40M1696.92 57.54v0.40M1697.22 57.53v0.40M1697.52 57.51v0.40M1697.82 57.50v0.40M1698.12 57.48v0.40M1698.42 57.47v0.40M1698.72 57.46v0.40M1699.02 57.44v0.40M1699.32 57.43v0.40M1699.62 57.42v0.40M1699.92 57.40v0.40M1700.22 57.39v0.40M1700.52 57.38v0.40M1700.82 57.36v0.40M1701.12 57.35v0.40M1701.42 57.34v0.40M1701.72 57.33v0.40M1702.02 57.31v0.40M1702.32 57.30v0.40M1702.62 57.29v0.40M1702.92 57.27v0.40M1703.22 57.26v0.40M1703.52 57.25v0.40M1703.82 57.24v0.40M1704.12 57.22v0.40M1704.42 57.21v0.40M1704.72 57.20v0.40M1705.02 57.19v0.40M1705.32 57.18v0.40M1705.62 57.16v0.40M1705.92 57.15v0.40M1706.22 57.14v0.40M1706.52 57.13v0.40M1706.82 57.12v0.40M1707.12 57.11v0.40M1707.42 57.10v0.40M1707.72 57.08v0.40M1708.02 57.07v0.40M1708.32 57.06v0.40M1708.62 57.05v0.40M1708.92 57.04v0.40M1709.22 57.03v0.40M1709.52 57.02v0.40M1709.82 57.01v0.40M1710.12 57.00v0.40M1710.42 56.99v0.40M1710.72 56.98v0.40M1711.02 56.96v0.40M1711.32 56.95v0.40M1711.62 56.94v0.40M1711.92 56.93v0.40M1712.22 56.92v0.40M1712.52 56.91v0.40M1712.82 56.90v0.40M1713.12 56.89v0.40M1713.42 56.88v0.40M1713.72 56.87v0.40M1714.02 56.86v0.40M1714.32 56.85v0.40M1714.62 56.84v0.40M1714.92 56.83v0.40M1715.22 56.82v0.40M1715.52 56.81v0.40M1715.82 56.80v0.40M1716.12 56.79v0.40M1716.42 56.78v0.40M1716.72 56.77v0.40M1717.02 56.76v0.40M1717.32 56.75v0.40M1717.62 56.74v0.40M1717.92 56.73v0.40M1718.22 56.72v0.40M1718.52 56.71v0.40M1718.82 56.71v0.40M1719.12 56.70v0.40M1719.42 56.69v0.40M1719.72 56.68v0.40M1720.02 56.67v0.40M1720.32 56.66v0.40M1720.62 56.65v0.40M1720.92 56.64v0.40M1721.22 56.64v0.40M1721.52 56.63v0.40M1721.82 56.62v0.40M1722.12 56.61v0.40M1722.42 56.60v0.40M1722.72 56.59v0.40M1723.02 56.59v0.40M1723.32 56.58v0.40M1723.62 56.57v0.40M1723.92 56.56v0.40M1724.22 56.55v0.40M1724.52 56.55v0.40M1724.82 56.54v0.40M1725.12 56.53v0.40M1725.42 56.52v0.40M1725.72 56.51v0.40M1726.02 56.51v0.40M1726.32 56.50v0.40M1726.62 56.49v0.40M1726.92 56.48v0.40M1727.22 56.48v0.40M1727.52 56.47v0.40M1727.82 56.46v0.40M1728.12 56.45v0.40M1728.42 56.45v0.40M1728.72 56.44v0.40M1729.02 56.43v0.40M1729.32 56.43v0.40M1729.62 56.42v0.40M1729.92 56.41v0.40M1730.22 56.40v0.40M1730.52 56.40v0.40M1730.82 56.39v0.40M1731.12 56.38v0.40M1731.42 56.38v0.40M1731.72 56.37v0.40M1732.02 56.36v0.40M1732.32 56.36v0.40M1732.62 56.35v0.40M1732.92 56.34v0.40M1733.22 56.34v0.40M1733.52 56.33v0.40M1733.82 56.32v0.40M1734.12 56.32v0.40M1734.42 56.31v0.40M1734.72 56.31v0.40M1735.02 56.30v0.40M1735.32 56.29v0.40M1735.62 56.29v0.40M1735.92 56.28v0.40M1736.22 56.28v0.40M1736.52 56.27v0.40M1736.82 56.26v0.40M1737.12 56.26v0.40M1737.42 56.25v0.40M1737.72 56.25v0.40M1738.02 56.24v0.40M1738.32 56.24v0.40M1738.62 56.23v0.40M1738.92 56.22v0.40M1739.22 56.22v0.40M1739.52 56.21v0.40M1739.82 56.21v0.40M1740.12 56.20v0.40M1740.42 56.20v0.40M1740.72 56.19v0.40M1741.02 56.19v0.40M1741.32 56.18v0.40M1741.62 56.18v0.40M1741.92 56.17v0.40M1742.22 56.17v0.40M1742.52 56.16v0.40M1742.82 56.16v0.40M1743.12 56.15v0.40M1743.42 56.15v0.40M1743.72 56.14v0.40M1744.02 56.14v0.40M1744.32 56.13v0.40M1744.62 56.13v0.40M1744.92 56.12v0.40M1745.22 56.12v0.40M1745.52 56.12v0.40M1745.82 56.11v0.40M1746.12 56.11v0.40M1746.42 56.10v0.40M1746.72 56.10v0.40M1747.02 56.09v0.40M1747.32 56.09v0.40M1747.62 56.09v0.40M1747.92 56.08v0.40M1748.22 56.08v0.40M1748.52 56.07v0.40M1748.82 56.07v0.40M1749.12 56.06v0.40M1749.42 56.06v0.40M1749.72 56.06v0.40M1750.02 56.05v0.40M1750.32 56.05v0.40M1750.62 56.04v0.40M1750.92 56.04v0.40M1751.22 56.04v0.40M1751.52 56.03v0.40M1751.82 56.03v0.40M1752.12 56.02v0.40M1752.42 56.02v0.40M1752.72 56.02v0.40M1753.02 56.01v0.40M1753.32 56.01v0.40M1753.62 56.00v0.40M1753.92 56.00v0.40M1754.22 56.00v0.40M1754.52 55.99v0.40M1754.82 55.99v0.40M1755.12 55.99v0.40M1755.42 55.98v0.40M1755.72 55.98v0.40M1756.02 55.97v0.40M1756.32 55.97v0.40M1756.62 55.97v0.40M1756.92 55.96v0.40M1757.22 55.96v0.40M1757.52 55.96v0.40M1757.82 55.95v0.40M1758.12 55.95v0.40M1758.42 55.95v0.40M1758.72 55.94v0.40M1759.02 55.94v0.40M1759.32 55.94v0.40M1759.62 55.93v0.40M1759.92 55.93v0.40M1760.22 55.93v0.40M1760.52 55.93v0.40M1760.82 55.92v0.40M1761.12 55.92v0.40M1761.42 55.92v0.40M1761.72 55.91v0.40M1762.02 55.91v0.40M1762.32 55.91v0.40M1762.62 55.91v0.40M1762.92 55.90v0.40M1763.22 55.90v0.40M1763.52 55.90v0.40M1763.82 55.90v0.40M1764.12 55.89v0.40M1764.42 55.89v0.40M1764.72 55.89v0.40M1765.02 55.89v0.40M1765.32 55.89v0.40M1765.62 55.88v0.40M1765.92 55.88v0.40M1766.22 55.88v0.40M1766.52 55.88v0.40M1766.82 55.87v0.40M1767.12 55.87v0.40M1767.42 55.87v0.40M1767.72 55.87v0.40M1768.02 55.87v0.40M1768.32 55.86v0.40M1768.62 55.86v0.40M1768.92 55.86v0.40M1769.22 55.86v0.40M1769.52 55.86v0.40M1769.82 55.85v0.40M1770.12 55.85v0.40M1770.42 55.85v0.40M1770.72 55.85v0.40M1771.02 55.85v0.40M1771.32 55.84v0.40M1771.62 55.84v0.40M1771.92 55.84v0.40M1772.22 55.84v0.40M1772.52 55.84v0.40M1772.82 55.83v0.40M1773.12 55.83v0.40M1773.42 55.83v0.40M1773.72 55.83v0.40M1774.02 55.83v0.40M1774.32 55.82v0.40M1774.62 55.82v0.40M1774.92 55.82v0.40M1775.22 55.82v0.40M1775.52 55.81v0.40M1775.82 55.81v0.40M1776.12 55.81v0.40M1776.42 55.81v0.40M1776.72 55.81v0.40M1777.02 55.81v0.40M1777.32 55.80v0.40M1777.62 55.80v0.40M1777.92 55.80v0.40M1778.22 55.80v0.40M1778.52 55.80v0.40M1778.82 55.80v0.40M1779.12 55.80v0.40M1779.42 55.79v0.40M1779.72 55.79v0.40M1780.02 55.79v0.40M1780.32 55.79v0.40M1780.62 55.79v0.40M1780.92 55.79v0.40M1781.22 55.79v0.40M1781.52 55.79v0.40M1781.82 55.79v0.40M1782.12 55.79v0.40M1782.42 55.79v0.40M1782.72 55.78v0.40M1783.02 55.78v0.40M1783.32 55.78v0.40M1783.62 55.78v0.40M1783.92 55.78v0.40M1784.22 55.78v0.40M1784.52 55.78v0.40M1784.82 55.78v0.40M1785.12 55.77v0.40M1785.42 55.77v0.40M1785.72 55.77v0.40M1786.02 55.77v0.40M1786.32 55.77v0.40M1786.62 55.77v0.40M1786.92 55.77v0.40M1787.22 55.76v0.40M1787.52 55.76v0.40M1787.82 55.76v0.40M1788.12 55.76v0.40M1788.42 55.76v0.40M1788.72 55.76v0.40M1789.02 55.75v0.40M1789.32 55.75v0.40M1789.62 55.75v0.40M1789.92 55.75v0.40M1790.22 55.75v0.40M1790.52 55.75v0.40M1790.82 55.75v0.40M1791.12 55.75v0.40M1791.42 55.74v0.40M1791.72 55.74v0.40M1792.02 55.74v0.40M1792.32 55.74v0.40M1792.62 55.74v0.40M1792.92 55.74v0.40M1793.22 55.74v0.40M1793.52 55.74v0.40M1793.82 55.74v0.40M1794.12 55.74v0.40M1794.42 55.74v0.40M1794.72 55.73v0.40M1795.02 55.73v0.40M1795.32 55.73v0.40M1795.62 55.73v0.40M1795.92 55.73v0.40M1796.22 55.73v0.40M1796.52 55.73v0.40M1796.82 55.73v0.40M1797.12 55.73v0.40M1797.42 55.73v0.40M1797.72 55.72v0.40M1798.02 55.72v0.40M1798.32 55.72v0.40M1798.62 55.72v0.40M1798.92 55.72v0.40M1799.22 55.72v0.40M1799.52 55.72v0.40M1799.82 55.72v0.40M1800.12 55.72v0.40M1800.42 55.72v0.40M1800.72 55.71v0.40M1801.02 55.71v0.40M1801.32 55.71v0.40M1801.62 55.71v0.40M1801.92 55.71v0.40M1802.22 55.71v0.40M1802.52 55.71v0.40M1802.82 55.71v0.40M1803.12 55.71v0.40M1803.42 55.71v0.40M1803.72 55.70v0.40M1804.02 55.70v0.40M1804.32 55.70v0.40M1804.62 55.70v0.40M1804.92 55.70v0.40M1805.22 55.70v0.40M1805.52 55.70v0.40M1805.82 55.70v0.40M1806.12 55.70v0.40M1806.42 55.70v0.40M1806.72 55.69v0.40M1807.02 55.69v0.40M1807.32 55.69v0.40M1807.62 55.69v0.40M1807.92 55.69v0.40M1808.22 55.69v0.40M1808.52 55.69v0.40M1808.82 55.69v0.40M1809.12 55.69v0.40M1809.42 55.69v0.40M1809.72 55.68v0.40M1810.02 55.68v0.40M1810.32 55.68v0.40M1810.62 55.68v0.40M1810.92 55.68v0.40M1811.22 55.68v0.40M1811.52 55.68v0.40M1811.82 55.68v0.40M1812.12 55.68v0.40M1812.42 55.68v0.40M1812.72 55.67v0.40M1813.02 55.67v0.40M1813.32 55.67v0.40M1813.62 55.67v0.40M1813.92 55.67v0.40M1814.22 55.67v0.40M1814.52 55.67v0.40M1814.82 55.67v0.40M1815.12 55.67v0.40M1815.42 55.67v0.40M1815.72 55.66v0.40M1816.02 55.66v0.40M1816.32 55.66v0.40M1816.62 55.66v0.40M1816.92 55.66v0.40M1817.22 55.66v0.40M1817.52 55.66v0.40M1817.82 55.66v0.40M1818.12 55.66v0.40M1818.42 55.66v0.40M1818.72 55.65v0.40M1819.02 55.65v0.40M1819.32 55.65v0.40M1819.62 55.65v0.40M1819.92 55.65v0.40M1820.22 55.65v0.40M1820.52 55.65v0.40M1820.82 55.65v0.40M1821.12 55.65v0.40M1821.42 55.64v0.40M1821.72 55.64v0.40M1822.02 55.64v0.40M1822.32 55.64v0.40M1822.62 55.64v0.40M1822.92 55.64v0.40M1823.22 55.64v0.40M1823.52 55.63v0.40M1823.82 55.63v0.40M1824.12 55.63v0.40M1824.42 55.63v0.40M1824.72 55.63v0.40M1825.02 55.63v0.40M1825.32 55.62v0.40M1825.62 55.62v0.40M1825.92 55.62v0.40M1826.22 55.62v0.40M1826.52 55.62v0.40M1826.82 55.62v0.40M1827.12 55.61v0.40M1827.42 55.61v0.40M1827.72 55.61v0.40M1828.02 55.61v0.40M1828.32 55.61v0.40M1828.62 55.60v0.40M1828.92 55.60v0.40M1829.22 55.60v0.40M1829.52 55.60v0.40M1829.82 55.60v0.40M1830.12 55.59v0.40M1830.42 55.59v0.40M1830.72 55.59v0.40M1831.02 55.59v0.40M1831.32 55.58v0.40M1831.62 55.58v0.40M1831.92 55.58v0.40M1832.22 55.58v0.40M1832.52 55.58v0.40M1832.82 55.57v0.40M1833.12 55.57v0.40M1833.42 55.57v0.40M1833.72 55.57v0.40M1834.02 55.56v0.40M1834.32 55.56v0.40M1834.62 55.56v0.40M1834.92 55.56v0.40M1835.22 55.55v0.40M1835.52 55.55v0.40M1835.82 55.55v0.40M1836.12 55.55v0.40M1836.42 55.54v0.40M1836.72 55.54v0.40M1837.02 55.54v0.40M1837.32 55.54v0.40M1837.62 55.53v0.40M1837.92 55.53v0.40M1838.22 55.53v0.40M1838.52 55.53v0.40M1838.82 55.52v0.40M1839.12 55.52v0.40M1839.42 55.52v0.40M1839.72 55.51v0.40M1840.02 55.51v0.40M1840.32 55.51v0.40M1840.62 55.51v0.40M1840.92 55.50v0.40M1841.22 55.50v0.40M1841.52 55.50v0.40M1841.82 55.49v0.40M1842.12 55.49v0.40M1842.42 55.49v0.40M1842.72 55.48v0.40M1843.02 55.48v0.40M1843.32 55.48v0.40M1843.62 55.47v0.40M1843.92 55.47v0.40M1844.22 55.47v0.40M1844.52 55.46v0.40M1844.82 55.46v0.40M1845.12 55.46v0.40M1845.42 55.45v0.40M1845.72 55.45v0.40M1846.02 55.45v0.40M1846.32 55.44v0.40M1846.62 55.44v0.40M1846.92 55.44v0.40M1847.22 55.43v0.40M1847.52 55.43v0.40M1847.82 55.43v0.40M1848.12 55.42v0.40M1848.42 55.42v0.40M1848.72 55.42v0.40M1849.02 55.41v0.40M1849.32 55.41v0.40M1849.62 55.40v0.40M1849.92 55.40v0.40M1850.22 55.40v0.40M1850.52 55.39v0.40M1850.82 55.39v0.40M1851.12 55.38v0.40M1851.42 55.38v0.40M1851.72 55.38v0.40M1852.02 55.37v0.40M1852.32 55.37v0.40M1852.62 55.36v0.40M1852.92 55.36v0.40M1853.22 55.35v0.40M1853.52 55.35v0.40M1853.82 55.34v0.40M1854.12 55.34v0.40M1854.42 55.33v0.40M1854.72 55.33v0.40M1855.02 55.33v0.40M1855.32 55.32v0.40M1855.62 55.32v0.40M1855.92 55.31v0.40M1856.22 55.31v0.40M1856.52 55.30v0.40M1856.82 55.30v0.40M1857.12 55.29v0.40M1857.42 55.29v0.40M1857.72 55.28v0.40M1858.02 55.28v0.40M1858.32 55.27v0.40M1858.62 55.27v0.40M1858.92 55.26v0.40M1859.22 55.26v0.40M1859.52 55.25v0.40M1859.82 55.25v0.40M1860.12 55.24v0.40M1860.42 55.24v0.40M1860.72 55.23v0.40M1861.02 55.23v0.40M1861.32 55.22v0.40M1861.62 55.22v0.40M1861.92 55.21v0.40M1862.22 55.21v0.40M1862.52 55.20v0.40M1862.82 55.19v0.40M1863.12 55.19v0.40" fill="none" stroke="#008000" stroke-width="4.3" stroke-linecap="round"/>
<rect x="1380.9" y="15.8" width="487.80" height="362.70" fill="none" stroke="#000" stroke-width="2.0"/>
<path d="M1478.46 378.5v-8M1478.46 15.8v8M1576.02 378.5v-8M1576.02 15.8v8M1673.58 378.5v-8M1673.58 15.8v8M1771.14 378.5v-8M1771.14 15.8v8" stroke="#000" stroke-width="1.9" fill="none"/>
<path d="M1429.68 378.5v-4.5M1429.68 15.8v4.5M1527.24 378.5v-4.5M1527.24 15.8v4.5M1624.80 378.5v-4.5M1624.80 15.8v4.5M1722.36 378.5v-4.5M1722.36 15.8v4.5M1819.92 378.5v-4.5M1819.92 15.8v4.5" stroke="#000" stroke-width="1.9" fill="none"/>
<path d="M1380.9 56.10h8M1868.7 56.10h-8M1380.9 136.70h8M1868.7 136.70h-8M1380.9 217.30h8M1868.7 217.30h-8M1380.9 297.90h8M1868.7 297.90h-8" stroke="#000" stroke-width="1.9" fill="none"/>
<path d="M1380.9 96.40h4.5M1868.7 96.40h-4.5M1380.9 177.00h4.5M1868.7 177.00h-4.5M1380.9 257.60h4.5M1868.7 257.60h-4.5M1380.9 338.20h4.5M1868.7 338.20h-4.5" stroke="#000" stroke-width="1.9" fill="none"/>
<text transform="translate(1354.62,66.30) scale(0.9500,1)" font-size="34.5" font-weight="bold" font-style="normal">0</text>
<text transform="translate(1343.64,146.90) scale(0.9500,1)" font-size="34.5" font-weight="bold" font-style="normal">-2</text>
<text transform="translate(1342.58,227.50) scale(0.9500,1)" font-size="34.5" font-weight="bold" font-style="normal">-4</text>
<text transform="translate(1343.56,308.10) scale(0.9500,1)" font-size="34.5" font-weight="bold" font-style="normal">-6</text>
<text transform="translate(1343.40,388.70) scale(0.9500,1)" font-size="34.5" font-weight="bold" font-style="normal">-8</text>
<text transform="translate(1380.90,413.10) scale(0.95,1)" font-size="34.5" font-weight="bold" text-anchor="middle">0</text>
<text transform="translate(1478.46,413.10) scale(0.95,1)" font-size="34.5" font-weight="bold" text-anchor="middle">100</text>
<text transform="translate(1576.02,413.10) scale(0.95,1)" font-size="34.5" font-weight="bold" text-anchor="middle">200</text>
<text transform="translate(1673.58,413.10) scale(0.95,1)" font-size="34.5" font-weight="bold" text-anchor="middle">300</text>
<text transform="translate(1771.14,413.10) scale(0.95,1)" font-size="34.5" font-weight="bold" text-anchor="middle">400</text>
<text transform="translate(1868.70,413.10) scale(0.95,1)" font-size="34.5" font-weight="bold" text-anchor="middle">500</text>
<text transform="translate(1620.67,313.20) scale(0.9416,1)" font-size="33.0" font-weight="normal" font-style="normal">12CB</text>
<text transform="translate(0,350.90)" font-size="33.0"><tspan x="1619.35" y="0" font-weight="normal" font-style="normal" textLength="21.22" lengthAdjust="spacingAndGlyphs">Δ</tspan><tspan x="1640.57" y="0" font-weight="normal" font-style="italic" textLength="21.19" lengthAdjust="spacingAndGlyphs">E</tspan><tspan x="1661.76" y="0" font-weight="normal" font-style="normal" textLength="159.80" lengthAdjust="spacingAndGlyphs"> = 80 kVcm</tspan><tspan x="1822.09" y="-9.4" font-size="23.0" textLength="15.99" lengthAdjust="spacingAndGlyphs">-1</tspan></text>
<text transform="translate(0,48.20)"><tspan x="1633.90" y="0.00" font-size="39.0" font-weight="normal" font-style="normal" textLength="11.18" lengthAdjust="spacingAndGlyphs">(</tspan><tspan x="1647.16" y="0.00" font-size="39.0" font-weight="bold" font-style="normal" textLength="21.45" lengthAdjust="spacingAndGlyphs">c</tspan><tspan x="1671.54" y="0.00" font-size="39.0" font-weight="normal" font-style="normal" textLength="11.56" lengthAdjust="spacingAndGlyphs">)</tspan></text>
<text transform="translate(0,478.70)"><tspan x="1591.96" y="0.00" font-size="53.0" font-weight="bold" font-style="italic" textLength="15.98" lengthAdjust="spacingAndGlyphs">t</tspan><tspan> </tspan><tspan x="1623.39" y="-0.40" font-size="50.5" font-weight="bold" font-style="normal" textLength="14.58" lengthAdjust="spacingAndGlyphs">[</tspan><tspan x="1638.56" y="0.00" font-size="53.0" font-weight="bold" font-style="normal" textLength="29.31" lengthAdjust="spacingAndGlyphs">s</tspan><tspan x="1668.47" y="-0.40" font-size="50.5" font-weight="bold" font-style="normal" textLength="14.20" lengthAdjust="spacingAndGlyphs">]</tspan></text>
<text transform="translate(1320.40,0) rotate(-90)"><tspan x="-316.17" y="0.00" font-size="53.0" font-weight="bold" font-style="normal" textLength="40.81" lengthAdjust="spacingAndGlyphs">Δ</tspan><tspan x="-274.51" y="0.00" font-size="53.0" font-weight="bold" font-style="italic" textLength="29.74" lengthAdjust="spacingAndGlyphs">T</tspan><tspan> </tspan><tspan x="-231.45" y="13.00" font-size="34.5" font-weight="bold" font-style="normal" textLength="46.34" lengthAdjust="spacingAndGlyphs">EC</tspan><tspan x="-182.93" y="-0.40" font-size="50.5" font-weight="bold" font-style="normal" textLength="14.70" lengthAdjust="spacingAndGlyphs">[</tspan><tspan x="-166.47" y="0.00" font-size="53.0" font-weight="bold" font-style="normal" textLength="36.05" lengthAdjust="spacingAndGlyphs">K</tspan><tspan x="-129.15" y="-0.40" font-size="50.5" font-weight="bold" font-style="normal" textLength="14.70" lengthAdjust="spacingAndGlyphs">]</tspan></text>
</svg>
</body></html>
